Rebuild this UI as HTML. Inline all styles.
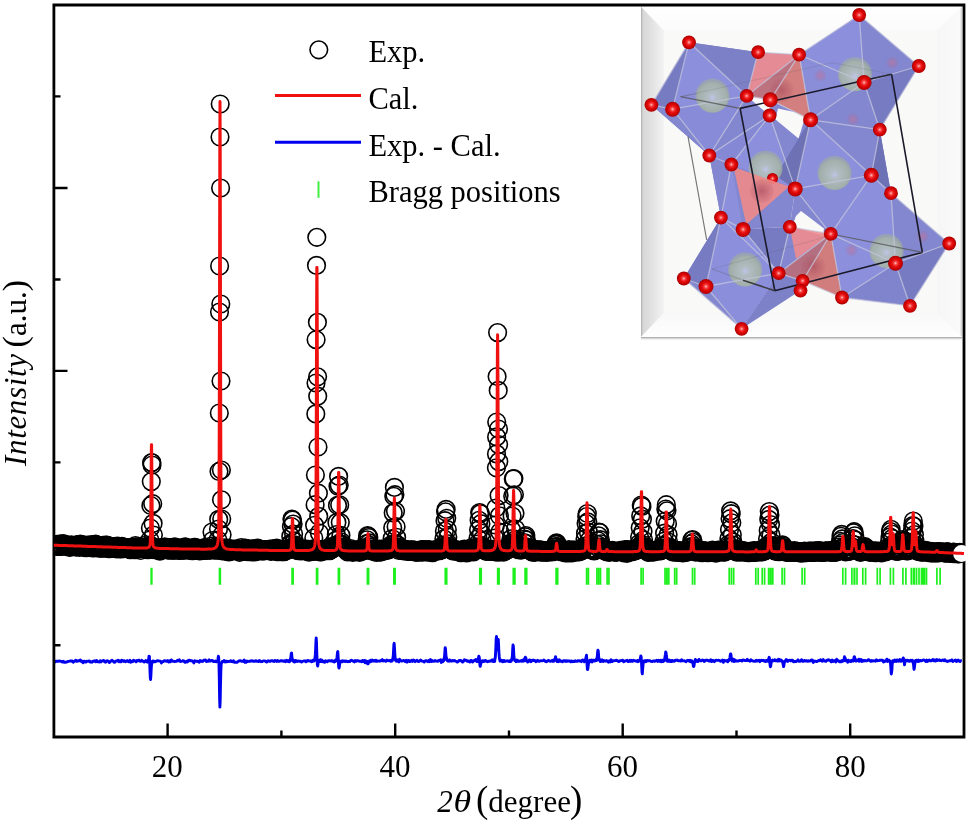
<!DOCTYPE html>
<html><head><meta charset="utf-8"><style>
html,body{margin:0;padding:0;background:#fff;}
body{width:968px;height:824px;overflow:hidden;}
svg{display:block;will-change:transform;}
text{font-family:"Liberation Serif",serif;fill:#000;}
</style></head><body>
<svg width="968" height="824" viewBox="0 0 968 824">
<defs>
<marker id="c" markerWidth="24" markerHeight="24" refX="12" refY="12" markerUnits="userSpaceOnUse" overflow="visible"><circle cx="12" cy="12" r="8.8" fill="none" stroke="#000" stroke-width="1.6"/></marker>
<clipPath id="pc"><rect x="55.2" y="0" width="910" height="737"/></clipPath>
</defs>
<rect width="968" height="824" fill="#fff"/>
<path d="M151.2 567.8V584.8M151.8 567.8V584.8M219.5 567.8V584.8M220.3 567.8V584.8M292.1 567.8V584.8M293.1 567.8V584.8M316.6 567.8V584.8M317.6 567.8V584.8M338.4 567.8V584.8M339.4 567.8V584.8M367.4 567.8V584.8M368.6 567.8V584.8M393.9 567.8V584.8M395.1 567.8V584.8M445.3 567.8V584.8M446.7 567.8V584.8M479.8 567.8V584.8M481.2 567.8V584.8M497.7 567.8V584.8M499.1 567.8V584.8M513.3 567.8V584.8M514.9 567.8V584.8M525.1 567.8V584.8M526.7 567.8V584.8M556.1 567.8V584.8M557.7 567.8V584.8M586.6 567.8V584.8M588.4 567.8V584.8M596.9 567.8V584.8M598.7 567.8V584.8M598.7 567.8V584.8M600.5 567.8V584.8M607.1 567.8V584.8M608.9 567.8V584.8M641.1 567.8V584.8M643.1 567.8V584.8M665 567.8V584.8M667 567.8V584.8M666.8 567.8V584.8M668.8 567.8V584.8M674.7 567.8V584.8M676.7 567.8V584.8M692.5 567.8V584.8M694.7 567.8V584.8M729.2 567.8V584.8M731.4 567.8V584.8M731.5 567.8V584.8M733.7 567.8V584.8M755.8 567.8V584.8M758.2 567.8V584.8M762.2 567.8V584.8M764.6 567.8V584.8M768.6 567.8V584.8M771 567.8V584.8M770.4 567.8V584.8M772.8 567.8V584.8M782.1 567.8V584.8M784.5 567.8V584.8M802.1 567.8V584.8M804.7 567.8V584.8M842.8 567.8V584.8M845.6 567.8V584.8M851.9 567.8V584.8M854.7 567.8V584.8M854.2 567.8V584.8M857 567.8V584.8M862.8 567.8V584.8M865.6 567.8V584.8M877.3 567.8V584.8M880.1 567.8V584.8M890.4 567.8V584.8M893.4 567.8V584.8M902.9 567.8V584.8M905.9 567.8V584.8M911.3 567.8V584.8M914.3 567.8V584.8M913.5 567.8V584.8M916.5 567.8V584.8M919 567.8V584.8M922 567.8V584.8M921.5 567.8V584.8M924.5 567.8V584.8M923.5 567.8V584.8M926.5 567.8V584.8M936.9 567.8V584.8M940.1 567.8V584.8" stroke="#1cf01c" stroke-width="1.7" fill="none"/>
<polyline points="54.3,660.6 55.2,661.9 56.1,661.2 57,661.1 57.9,661.4 58.8,661.1 59.7,661 60.6,661.4 61.5,661.4 62.4,662.1 63.3,661.3 64.2,662.3 65.1,662.3 66,662.2 66.9,661.9 67.8,661.4 68.7,661.4 69.6,661.2 70.5,660.9 71.4,661.2 72.3,660.9 73.2,662.2 74.1,661.6 75,661 75.9,660.2 76.8,661.3 77.7,661.1 78.6,660.7 79.5,660.7 80.4,660 81.3,661.6 82.2,661.2 83.1,662.7 84,661.3 84.9,661.2 85.8,662.1 86.7,661.3 87.6,661.4 88.5,661.1 89.4,660.9 90.3,662.1 91.2,661.8 92.1,662.2 93,661.1 93.9,661.3 94.8,660.8 95.7,661.8 96.6,660.5 97.5,661.6 98.4,661.9 99.3,662 100.2,660.7 101.1,661.9 102,660.9 102.9,660.8 103.8,660.5 104.7,661.9 105.6,662.2 106.5,660.9 107.4,660.8 108.3,661.1 109.2,662.6 110.1,661.8 111,661 111.9,660.3 112.8,660.9 113.7,661.9 114.6,662.3 115.5,661.1 116.4,660.9 117.3,661 118.2,660.2 119.1,661.7 120,660.7 120.9,661.8 121.8,660.3 122.7,660.5 123.6,661.4 124.5,660.8 125.4,661.7 126.3,661.2 127.2,660.6 128.1,661.6 129,661.7 129.9,660.2 130.8,662.2 131.7,661.5 132.6,661.7 133.5,660.2 134.4,660.8 135.3,661 136.2,661.8 137.1,660.4 138,660.7 138.9,660.1 139.8,661.1 140.7,661.4 141.6,660.3 142.5,660.9 143.4,661.5 144.3,662.1 145.2,661.6 145.5,661.1 145.8,660.6 146.1,660.8 146.4,660.9 146.7,661.4 147,661.2 147.3,662.2 147.6,661.4 147.9,660.5 148.2,661.6 148.5,660.2 148.8,658 149.1,656.1 149.4,656.5 149.7,662.2 150,671.3 150.3,677.9 150.6,679.5 150.9,675.5 151.2,669.2 151.5,665 151.8,663.1 152.1,662.8 152.4,661.2 152.7,662.1 153,661 153.3,661.8 153.6,661.5 153.9,661.4 154.2,661.8 154.5,661.2 154.8,661.8 155.1,661.7 156,661.3 156.9,660.9 157.8,660.8 158.7,660.9 159.6,661.1 160.5,661.2 161.4,662.9 162.3,661.6 163.2,661.6 164.1,660.7 165,660.8 165.9,661 166.8,661.3 167.7,660.6 168.6,662.1 169.5,660.9 170.4,661.8 171.3,659.9 172.2,661.2 173.1,661.4 174,661.3 174.9,661.5 175.8,661.4 176.7,661.3 177.6,660.2 178.5,660.8 179.4,659.9 180.3,661.5 181.2,661.4 182.1,661.1 183,660.7 183.9,660.9 184.8,662.2 185.7,662.2 186.6,661.2 187.5,661.9 188.4,660.3 189.3,660.1 190.2,660.9 191.1,660.7 192,660.9 192.9,661.3 193.8,662.9 194.7,660.8 195.6,661.2 196.5,661.3 197.4,661.2 198.3,661.7 199.2,662.2 200.1,660.5 201,661.3 201.9,661 202.8,661.4 203.7,660.3 204.6,660.2 205.5,659.9 206.4,661.5 207.3,661.3 208.2,661.2 209.1,659.9 210,661 210.9,660.8 211.8,660.4 212.7,660.7 213.6,661.6 214.5,661.5 214.8,661.2 215.1,661.5 215.4,661 215.7,661.4 216,661.4 216.3,661.7 216.6,661.4 216.9,661.3 217.2,661.3 217.5,660.7 217.8,661.3 218.1,658.3 218.4,656.2 218.7,658.1 219,665.5 219.3,678.9 219.6,697.8 219.9,707.1 220.2,700.2 220.5,684.8 220.8,672.5 221.1,665.2 221.4,662.9 221.7,662.7 222,662.4 222.3,661.4 222.6,661.5 222.9,661.4 223.2,661.6 223.5,661.4 223.8,661 224.1,660.5 224.4,661.9 225.3,662 226.2,661.1 227.1,661.7 228,661.4 228.9,661.5 229.8,661.4 230.7,660.7 231.6,661.5 232.5,661.7 233.4,660.7 234.3,662.2 235.2,662.3 236.1,662.2 237,662.3 237.9,661.6 238.8,661 239.7,660.8 240.6,660.7 241.5,661.2 242.4,661.1 243.3,661.5 244.2,660 245.1,662.4 246,662.4 246.9,661.1 247.8,661.5 248.7,661.4 249.6,661.3 250.5,661 251.4,661.1 252.3,660.7 253.2,661.2 254.1,661.1 255,661.3 255.9,660.7 256.8,661.2 257.7,661.2 258.6,661.5 259.5,660.6 260.4,661.4 261.3,661.7 262.2,661.5 263.1,660.9 264,660.9 264.9,661 265.8,661.5 266.7,662 267.6,661 268.5,660.8 269.4,661.3 270.3,661.2 271.2,660.6 272.1,660.7 273,661.1 273.9,661.5 274.8,660.5 275.7,660.6 276.6,661.4 277.5,660.5 278.4,661.2 279.3,661.3 280.2,661.1 281.1,660.6 282,661.1 282.9,660.9 283.8,661.3 284.7,660.7 285.6,661.7 286.5,660.2 287.4,661 287.7,661.1 288,661.6 288.3,660.7 288.6,661.3 288.9,660.7 289.2,661.4 289.5,661.8 289.8,660.6 290.1,660.7 290.4,659.1 290.7,658.4 291,655.9 291.3,653.2 291.6,653 291.9,656.4 292.2,659.2 292.5,660.6 292.8,661.1 293.1,659.8 293.4,660.5 293.7,661.7 294,660.3 294.3,661.6 294.6,662.1 294.9,661.5 295.2,661.7 295.5,660.9 295.8,660.4 296.1,661.1 296.4,661 296.7,661.1 297,661.5 297.9,661 298.8,661.2 299.7,661.3 300.6,661.1 301.5,662.1 302.4,661.4 303.3,661.2 304.2,661 305.1,660.8 306,661.8 306.9,661.2 307.8,660.5 308.7,660.8 309.6,661 310.5,660.9 311.4,661.7 312.3,660.5 312.6,661.4 312.9,661 313.2,660.2 313.5,660.8 313.8,660.7 314.1,660.9 314.4,660.2 314.7,660.2 315,657.8 315.3,654.9 315.6,649.8 315.9,642.2 316.2,637.9 316.5,642.6 316.8,653.2 317.1,659.9 317.4,665.1 317.7,666 318,664.2 318.3,661.6 318.6,660.4 318.9,661.9 319.2,661.1 319.5,660.5 319.8,661.1 320.1,661.5 320.4,659.6 320.7,661.6 321,661.5 321.3,659.9 321.6,661.5 321.9,660.1 322.8,661.7 323.7,661.3 324.6,662.3 325.5,660.8 326.4,661.1 327.3,661.7 328.2,660.7 329.1,660.7 330,660.9 330.9,661 331.8,660.5 332.7,661.4 333.6,661.4 333.9,661.1 334.2,662 334.5,660.9 334.8,661.7 335.1,660.7 335.4,661.4 335.7,659.9 336,660.9 336.3,660.5 336.6,659.6 336.9,657.9 337.2,655.3 337.5,652.3 337.8,651.6 338.1,656.4 338.4,662.1 338.7,666.9 339,668.1 339.3,666.8 339.6,664.6 339.9,662.3 340.2,661.3 340.5,662.1 340.8,661.7 341.1,661.7 341.4,661.8 341.7,660.9 342,661 342.3,661.7 342.6,660.8 342.9,661 343.2,661.3 343.5,661.3 344.4,660.9 345.3,661.6 346.2,661 347.1,661.5 348,661.7 348.9,661.4 349.8,661.5 350.7,660.4 351.6,660.3 352.5,660.7 353.4,661.3 354.3,661.9 355.2,660.4 356.1,661.2 357,660.6 357.9,660.7 358.8,660.9 359.7,661.4 360.6,661.2 361.5,661.7 362.4,660.5 362.7,661.6 363,661.6 363.3,661.1 363.6,661.3 363.9,660.8 364.2,660.5 364.5,660.9 364.8,660.7 365.1,662.7 365.4,660.8 365.7,662 366,661.3 366.3,661.4 366.6,661.8 366.9,661.3 367.2,663 367.5,663.7 367.8,663.2 368.1,663.8 368.4,662.8 368.7,662 369,662.2 369.3,661 369.6,661.4 369.9,661.5 370.2,660.6 370.5,661.8 370.8,660.3 371.1,660.4 371.4,661.3 371.7,660.5 372,661 372.3,660.1 373.2,661.1 374.1,660.4 375,661.2 375.9,660.2 376.8,661.3 377.7,660.9 378.6,661.1 379.5,661 380.4,661.1 381.3,660.3 382.2,659.6 383.1,661.1 384,660.5 384.9,660.8 385.8,661.3 386.7,660 387.6,660.6 388.5,660.7 389.4,660.5 390.3,661.2 390.6,661 390.9,660.4 391.2,660.3 391.5,661.2 391.8,660.3 392.1,660.9 392.4,660.6 392.7,658.8 393,657.9 393.3,655.3 393.6,649.9 393.9,644.4 394.2,643.3 394.5,648.2 394.8,653.4 395.1,657.6 395.4,660 395.7,660 396,661.1 396.3,659.8 396.6,661.1 396.9,660.7 397.2,659.8 397.5,661.4 397.8,661.1 398.1,660.9 398.4,660.3 398.7,660.8 399,661.9 399.3,660.6 399.6,659.1 399.9,660.6 400.8,660.4 401.7,661 402.6,660.8 403.5,660.5 404.4,660.6 405.3,661.6 406.2,660.2 407.1,662.1 408,660.7 408.9,660.4 409.8,661.5 410.7,661.3 411.6,660.4 412.5,661.4 413.4,660 414.3,660.5 415.2,661.6 416.1,660.9 417,660.3 417.9,661.3 418.8,661.5 419.7,661 420.6,660 421.5,660.8 422.4,661.2 423.3,661.4 424.2,662 425.1,660.9 426,660.7 426.9,661 427.8,661.7 428.7,660.5 429.6,661.7 430.5,659.5 431.4,661.4 432.3,660.6 433.2,661.3 434.1,661.4 435,660.4 435.9,661 436.8,661.1 437.7,661.3 438.6,660.5 439.5,660.5 440.4,659.9 441.3,662.4 441.6,660.9 441.9,660.8 442.2,660 442.5,661.3 442.8,660.5 443.1,661.5 443.4,661.1 443.7,660.5 444,660.4 444.3,658 444.6,655.6 444.9,651.3 445.2,647.6 445.5,649.1 445.8,653 446.1,657.7 446.4,657.4 446.7,659.8 447,660 447.3,660.4 447.6,661 447.9,661 448.2,660.9 448.5,660.6 448.8,661.2 449.1,661.1 449.4,659.9 449.7,660.8 450,660.2 450.3,660.3 450.6,661.1 450.9,661 451.8,661.1 452.7,660.5 453.6,660.9 454.5,660.5 455.4,661.2 456.3,661.4 457.2,662 458.1,661.7 459,660.5 459.9,660.7 460.8,660.5 461.7,661.2 462.6,662.1 463.5,661.4 464.4,659.8 465.3,660.3 466.2,660.3 467.1,661.3 468,661 468.9,661.1 469.8,662 470.7,660.5 471.6,660.5 472.5,662.1 473.4,661.2 474.3,660.5 475.2,659.9 475.5,660.1 475.8,659.6 476.1,661 476.4,661 476.7,661.5 477,660.8 477.3,660.5 477.6,660.3 477.9,661.4 478.2,658.4 478.5,657.9 478.8,656.2 479.1,656.7 479.4,658.6 479.7,662.7 480,665.9 480.3,666.3 480.6,664.8 480.9,663.1 481.2,661.4 481.5,661.2 481.8,661 482.1,661.2 482.4,661.8 482.7,661.7 483,660.8 483.3,661.3 483.6,661.1 483.9,661.4 484.2,661 484.5,661.1 484.8,660.7 485.7,660.5 486.6,661.4 487.5,661.7 488.4,661.3 489.3,661.2 490.2,661.1 491.1,660.7 492,660 492.3,661.3 492.6,661.1 492.9,660.7 493.2,660.2 493.5,661.4 493.8,659.6 494.1,661.5 494.4,660.7 494.7,661.4 495,658.9 495.3,657.4 495.6,652.9 495.9,646.2 496.2,638.5 496.5,636.5 496.8,643.1 497.1,648.2 497.4,649.8 497.7,646.6 498,640.4 498.3,639.5 498.6,645.5 498.9,652 499.2,656.2 499.5,659 499.8,659.7 500.1,661.1 500.4,659.8 500.7,661 501,660.2 501.3,660.5 501.6,660.6 501.9,660.9 502.2,661.3 502.5,661.8 502.8,660.6 503.1,661.7 503.4,661.5 503.7,661.4 504,660.5 504.9,661.4 505.8,660.9 506.7,661.1 507.6,660.8 508.5,661.3 509.4,661.6 509.7,661.4 510,660.7 510.3,661.3 510.6,661.5 510.9,660.1 511.2,661.3 511.5,659.5 511.8,660 512.1,658.3 512.4,655.3 512.7,649.4 513,644.9 513.3,645.7 513.6,650.4 513.9,656.3 514.2,658.6 514.5,659.5 514.8,660.7 515.1,660.1 515.4,660.4 515.7,660.4 516,661.7 516.3,661.6 516.6,660.7 516.9,660 517.2,661 517.5,660.9 517.8,661.1 518.1,661.3 518.4,660.8 518.7,661.4 519,661.4 519.9,661.1 520.8,660.7 521.7,660.7 522,661.3 522.3,660.3 522.6,660.8 522.9,660.5 523.2,660.1 523.5,661.2 523.8,660.8 524.1,660.6 524.4,660.7 524.7,658.5 525,658.1 525.3,657.2 525.6,657.8 525.9,657.9 526.2,660.1 526.5,660.5 526.8,661.4 527.1,661.4 527.4,661.1 527.7,662 528,660.9 528.3,660.7 528.6,660.7 528.9,660.4 529.2,660.9 529.5,659.9 529.8,660.9 530.1,661.2 530.4,661.5 530.7,660.7 531,661.7 531.3,660.6 532.2,660.9 533.1,659.9 534,660.5 534.9,660.5 535.8,661.7 536.7,661.2 537.6,660.3 538.5,661.2 539.4,661.2 540.3,660.8 541.2,660.9 542.1,660.8 543,660.6 543.9,660 544.8,660.9 545.7,661.6 546.6,661.7 547.5,660.8 548.4,660.5 549.3,660.8 550.2,661.4 551.1,661.1 552,660.6 552.3,661.1 552.6,660.8 552.9,661.1 553.2,660.6 553.5,660 553.8,660.8 554.1,661.2 554.4,660 554.7,660.1 555,659.8 555.3,657.9 555.6,656.7 555.9,658.4 556.2,659 556.5,660.2 556.8,659.9 557.1,661.5 557.4,659.9 557.7,660.5 558,661.2 558.3,661.6 558.6,660.4 558.9,660.5 559.2,661 559.5,659.8 559.8,661.2 560.1,661.2 560.4,660.7 560.7,661.2 561,661.3 561.3,661.1 561.6,661.2 562.5,661.7 563.4,660.7 564.3,661 565.2,660.6 566.1,661.5 567,660.7 567.9,661.2 568.8,661 569.7,660.9 570.6,661.8 571.5,660.9 572.4,661.7 573.3,661.3 574.2,661.6 575.1,660.8 576,661.4 576.9,661.3 577.8,660.6 578.7,661 579.6,660.8 580.5,660.9 581.4,661.6 582.3,660.5 582.6,660 582.9,660 583.2,660.6 583.5,660.5 583.8,660.9 584.1,661.2 584.4,661.8 584.7,661 585,660.9 585.3,659.8 585.6,659.5 585.9,658.2 586.2,656.6 586.5,655.2 586.8,660 587.1,665.4 587.4,669.5 587.7,669.5 588,667.8 588.3,665.1 588.6,662.8 588.9,661.2 589.2,660.8 589.5,661.6 589.8,660.3 590.1,661.8 590.4,661 590.7,661.1 591,660.2 591.3,660.6 591.6,661.2 591.9,660.1 592.2,662 593.1,660.1 594,660.2 594.3,660.9 594.6,661.1 594.9,661.1 595.2,660.5 595.5,660.6 595.8,660.5 596.1,660.3 596.4,659.1 596.7,660.5 597,659 597.3,656.5 597.6,652.5 597.9,650.2 598.2,650.7 598.5,654.1 598.8,658 599.1,658.5 599.4,660.3 599.7,659.9 600,660.4 600.3,661.5 600.6,660.1 600.9,660.7 601.2,660.5 601.5,661.3 601.8,660.3 602.1,659.9 602.4,661.1 602.7,660.7 603,660.7 603.3,661.4 603.6,660.4 603.9,660.7 604.8,661 605.7,661.1 606.6,660.6 607.5,661.4 608.4,662.1 609.3,660.7 610.2,661.9 611.1,659.8 612,661.6 612.9,660.7 613.8,660.9 614.7,660.7 615.6,660.5 616.5,660.2 617.4,660.7 618.3,661.5 619.2,661.5 620.1,660.7 621,660.6 621.9,660.5 622.8,660.2 623.7,661.8 624.6,661.2 625.5,660.9 626.4,660.6 627.3,660.3 628.2,661.6 629.1,661.3 630,660.4 630.9,661.4 631.8,660.3 632.7,661.2 633.6,660.3 634.5,660.6 635.4,661.1 636.3,661.1 637.2,661.4 637.5,660.4 637.8,661.7 638.1,661.6 638.4,660.8 638.7,661.1 639,660.4 639.3,660.7 639.6,659.9 639.9,660.2 640.2,659.2 640.5,657.9 640.8,655.9 641.1,656.4 641.4,660 641.7,666.3 642,672 642.3,673.8 642.6,669.4 642.9,666.5 643.2,662.4 643.5,661.5 643.8,661.3 644.1,660.9 644.4,661.9 644.7,661 645,661.8 645.3,661.6 645.6,660.7 645.9,661.1 646.2,661.5 646.5,660.7 646.8,660.9 647.7,660.5 648.6,660.9 649.5,660.7 650.4,660.9 651.3,661.4 652.2,661.6 653.1,660.9 654,660.9 654.9,661.3 655.8,660.7 656.7,660.3 657.6,661.4 658.5,660.3 659.4,661.3 660.3,660.3 661.2,661.8 662.1,660.3 662.4,661.3 662.7,661.5 663,660.2 663.3,661.5 663.6,660.2 663.9,659.7 664.2,660.8 664.5,660.5 664.8,659.1 665.1,656 665.4,654.4 665.7,652 666,652.5 666.3,655.3 666.6,657.1 666.9,659.3 667.2,661.2 667.5,661.3 667.8,660.4 668.1,660.3 668.4,660.9 668.7,661.3 669,661.1 669.3,660.1 669.6,660.8 669.9,660.8 670.2,661.5 670.5,661.5 670.8,661.1 671.1,661.5 671.4,660.6 671.7,661.6 672.6,660.6 673.5,661 674.4,661.3 675.3,660.3 676.2,660.4 677.1,659.9 678,660.9 678.9,660.8 679.8,660.6 680.7,661.1 681.6,659.7 682.5,660.8 683.4,660.9 684.3,660.7 685.2,661.2 686.1,661.7 687,660.6 687.9,660.3 688.8,660.5 689.1,660.9 689.4,661.2 689.7,660.4 690,661.4 690.3,660.3 690.6,661.3 690.9,661.1 691.2,661.2 691.5,662.1 691.8,660.9 692.1,661 692.4,661.7 692.7,662.7 693,663.2 693.3,666.1 693.6,666.6 693.9,666.3 694.2,664.6 694.5,662.3 694.8,661.4 695.1,661.2 695.4,659.4 695.7,661.4 696,661.2 696.3,661 696.6,660.7 696.9,660.5 697.2,660.7 697.5,661.4 697.8,660.7 698.1,661.5 699,659.4 699.9,660.6 700.8,660.9 701.7,660.8 702.6,659.9 703.5,660.4 704.4,661.5 705.3,660.1 706.2,660.3 707.1,660.2 708,660.5 708.9,661.1 709.8,661.1 710.7,659.7 711.6,661.6 712.5,660.5 713.4,660.5 714.3,661.7 715.2,660.7 716.1,660.1 717,660.4 717.9,660.4 718.8,660.3 719.7,660.6 720.6,661.2 721.5,661 722.4,660.1 723.3,662.3 724.2,660.3 725.1,660.8 726,660.8 726.9,661.2 727.2,660.6 727.5,660.9 727.8,661.8 728.1,660.7 728.4,660.1 728.7,660.7 729,660 729.3,660 729.6,659.5 729.9,658 730.2,655.3 730.5,654 730.8,653.9 731.1,655.6 731.4,658.9 731.7,659.6 732,661 732.3,660.2 732.6,660.9 732.9,660.8 733.2,659.2 733.5,659.9 733.8,660.1 734.1,661.5 734.4,659.7 734.7,661.2 735,661.3 735.3,661 735.6,661.1 735.9,660.5 736.2,660.8 736.5,660.9 737.4,661 738.3,661.1 739.2,660.7 740.1,660.4 741,660.5 741.9,661 742.8,659.9 743.7,660.1 744.6,660.5 745.5,660.5 746.4,660.6 747.3,659.4 748.2,660.6 749.1,660.6 750,661.2 750.9,659.7 751.8,660.6 752.7,661 753.6,661 754.5,661.4 755.4,661.3 756.3,660.2 757.2,661.1 758.1,660.6 759,660.3 759.9,661.6 760.8,660.4 761.7,660.3 762.6,660.5 763.5,660.3 764.4,661.3 765.3,661 765.6,661.5 765.9,661 766.2,660.4 766.5,661.3 766.8,660.4 767.1,660.5 767.4,660.6 767.7,660.7 768,661.1 768.3,659.7 768.6,659.4 768.9,658.2 769.2,657.3 769.5,658.8 769.8,662 770.1,665.3 770.4,666.8 770.7,666 771,663.8 771.3,661.9 771.6,661.6 771.9,660.5 772.2,660.2 772.5,660.7 772.8,660.1 773.1,660.5 773.4,660.4 773.7,660.5 774,660.7 774.3,660.3 774.6,660.5 774.9,659.8 775.8,660.8 776.7,660.3 777.6,661 778.5,659.2 778.8,660.3 779.1,660.9 779.4,659.5 779.7,660.6 780,660.8 780.3,660.8 780.6,660 780.9,660.9 781.2,660.9 781.5,660.3 781.8,661.3 782.1,661 782.4,661.3 782.7,661.8 783,663.7 783.3,665.1 783.6,666.6 783.9,665.3 784.2,663 784.5,661.9 784.8,661.8 785.1,660.8 785.4,661.1 785.7,661.1 786,660.7 786.3,659.6 786.6,660.9 786.9,660.9 787.2,660.8 787.5,660.3 787.8,661.4 788.1,660.7 789,660.4 789.9,660.3 790.8,660.9 791.7,660.1 792.6,660.2 793.5,661.8 794.4,661.4 795.3,661.3 796.2,661.5 797.1,661 798,659.8 798.9,661.4 799.8,661.4 800.7,661 801.6,659.7 802.5,661.4 803.4,661.4 804.3,660.5 805.2,660.8 806.1,661.1 807,660.7 807.9,661.3 808.8,660.8 809.7,661.1 810.6,660.8 811.5,659.9 812.4,660.2 813.3,662.4 814.2,660.9 815.1,661.4 816,661.3 816.9,661.6 817.8,661 818.7,660.4 819.6,660.7 820.5,659.7 821.4,660.6 822.3,661.2 823.2,659.6 824.1,660.8 825,661.1 825.9,661.4 826.8,660.2 827.7,660.4 828.6,659.7 829.5,660.2 830.4,661 831.3,661.8 832.2,660.1 833.1,661.4 834,660.9 834.9,660.4 835.8,661.9 836.7,659.3 837.6,660.7 838.5,660.8 839.4,661.8 840.3,661.7 841.2,661.9 841.5,660.7 841.8,661.2 842.1,661.4 842.4,660.9 842.7,660.8 843,660.5 843.3,660.3 843.6,659.7 843.9,660.9 844.2,658.8 844.5,656.8 844.8,657.4 845.1,657.9 845.4,659.1 845.7,660.8 846,660.3 846.3,660.4 846.6,660.2 846.9,660.6 847.2,660.4 847.5,660.7 847.8,662.3 848.1,660.9 848.4,660.2 848.7,661.7 849,661.1 849.3,661.1 849.6,661.1 849.9,661.1 850.2,661 850.5,661.4 850.8,661.2 851.1,661.4 851.4,660.4 851.7,660.6 852,660.2 852.3,661.1 852.6,661 852.9,660.2 853.2,660.6 853.5,661.1 853.8,659.4 854.1,656.8 854.4,656.7 854.7,657.7 855,658.7 855.3,659.9 855.6,660.9 855.9,660.7 856.2,660 856.5,661 856.8,660.6 857.1,660.7 857.4,660.3 857.7,659.9 858,660 858.3,660.5 858.6,660.1 858.9,659.2 859.2,661.3 859.5,660.1 859.8,660.3 860.1,661 861,659.4 861.9,661.4 862.8,660.3 863.7,661 864.6,660.4 865.5,660.8 866.4,660.7 867.3,660.7 868.2,659.7 869.1,659.9 870,660.6 870.9,661.4 871.8,660.4 872.7,661 873.6,660.8 874.5,660.9 875.4,661.2 876.3,659.9 877.2,660.8 878.1,660.6 879,660.5 879.9,660.2 880.8,660.2 881.7,660.1 882.6,660.1 883.5,662 884.4,661.6 885.3,660.7 886.2,661.1 886.5,660.1 886.8,659.2 887.1,659.8 887.4,660.8 887.7,661.5 888,660.7 888.3,660.3 888.6,660.7 888.9,660.3 889.2,660.2 889.5,660.9 889.8,661 890.1,661.2 890.4,662.5 890.7,665.3 891,670.1 891.3,674 891.6,672.3 891.9,669.7 892.2,663.8 892.5,662.6 892.8,660.8 893.1,661 893.4,661 893.7,661.2 894,661.5 894.3,660.5 894.6,660.1 894.9,660.5 895.2,660.8 895.5,660.3 895.8,661.1 896.1,661.6 897,659.9 897.9,660.8 898.8,661.2 899.7,659.6 900,660.7 900.3,660.5 900.6,659.9 900.9,661.3 901.2,660.7 901.5,660.3 901.8,660.8 902.1,660.7 902.4,660.3 902.7,659.5 903,658.6 903.3,657.9 903.6,659.6 903.9,661.7 904.2,661.8 904.5,664.9 904.8,662.8 905.1,661.3 905.4,660.2 905.7,661 906,660.8 906.3,660.4 906.6,660.5 906.9,660.2 907.2,660.3 907.5,660.6 907.8,660.3 908.1,661 908.4,660.6 908.7,660.7 909,660.9 909.3,661.3 909.6,661 909.9,660.8 910.2,660.6 910.5,660.3 910.8,660.5 911.1,661.1 911.4,660.9 911.7,660.6 912,660.1 912.3,660.1 912.6,661.2 912.9,662.1 913.2,662.9 913.5,664.2 913.8,667.7 914.1,669.4 914.4,667.3 914.7,665.2 915,662.6 915.3,661.1 915.6,660.4 915.9,661.3 916.2,661 916.5,660.3 916.8,660.2 917.1,661.2 917.4,661 917.7,660.5 918,661.5 918.3,660.5 918.6,660.1 919.5,661.2 920.4,660.5 921.3,660.8 922.2,660.6 923.1,660.1 924,660 924.9,660.5 925.8,661.4 926.7,660.1 927.6,661.4 928.5,660.7 929.4,660 930.3,660.8 931.2,660.9 932.1,660.1 933,659.5 933.9,660.8 934.8,660 935.7,660.9 936.6,659.6 937.5,660.5 938.4,660.2 939.3,659.8 940.2,660.5 941.1,660.7 942,660.3 942.9,660 943.8,660.7 944.7,659.7 945.6,660.9 946.5,660.9 947.4,661.5 948.3,661.1 949.2,660.8 950.1,660.7 951,660.6 951.9,659.9 952.8,661.4 953.7,660.9 954.6,660.5 955.5,660 956.4,661.4 957.3,660.9 958.2,660 959.1,661 960,661.6 960.9,660.6 961.8,660.8" fill="none" stroke="#0000ee" stroke-width="2.9" stroke-linejoin="round"/>
<g clip-path="url(#pc)"><polyline points="54.1,544.9 54.7,545.7 55.2,545 55.8,544.9 56.4,544.4 56.9,545.1 57.5,546.4 58.1,545.8 58.7,546.4 59.2,545.6 59.8,545.8 60.4,545.6 60.9,543.8 61.5,546.3 62.1,546 62.6,546 63.2,543.8 63.8,543.8 64.3,544.7 64.9,545.1 65.5,545.9 66,545.6 66.6,546.1 67.2,545 67.8,546 68.3,546.1 68.9,545.1 69.5,547.4 70,546.3 70.6,547 71.2,545.2 71.7,545.1 72.3,545.5 72.9,545.7 73.4,546.5 74,546.1 74.6,545.5 75.2,545 75.7,545.4 76.3,547.2 76.9,545.2 77.4,546.2 78,546.4 78.6,544.6 79.1,546.1 79.7,547.4 80.3,544.1 80.8,545.8 81.4,546 82,545.3 82.6,546.7 83.1,546.1 83.7,544.8 84.3,547 84.8,546.9 85.4,547.2 86,547.7 86.5,546.7 87.1,546.4 87.7,545.1 88.2,547 88.8,545.8 89.4,546 89.9,545.2 90.5,545.5 91.1,545.9 91.7,547.7 92.2,544.5 92.8,545.1 93.4,546.8 93.9,548 94.5,547.1 95.1,544.7 95.6,544.2 96.2,547 96.8,545.9 97.3,545.6 97.9,547.7 98.5,547.8 99.1,546.9 99.6,547 100.2,547.2 100.8,548.3 101.3,547.4 101.9,547.3 102.5,547.4 103,545.3 103.6,548.1 104.2,547.8 104.7,547.4 105.3,545 105.9,546.4 106.4,547.8 107,545.2 107.6,546.8 108.2,548 108.7,545.8 109.3,548.6 109.9,547.6 110.4,547 111,547.5 111.6,547.8 112.1,547.3 112.7,548.3 113.3,546.6 113.8,546.8 114.4,548.3 115,547.3 115.6,546.4 116.1,548.2 116.7,548.8 117.3,546.9 117.8,546 118.4,547.3 119,547.3 119.5,547.1 120.1,548.8 120.7,546.5 121.2,548.7 121.8,546.3 122.4,546.8 122.9,548.2 123.5,548.7 124.1,548.4 124.7,547.9 125.2,547.8 125.8,547.8 126.4,548.2 126.9,547.5 127.5,548 128.1,548.3 128.6,547.7 129.2,548.5 129.8,548.3 130.3,549.7 130.9,548.1 131.5,547.4 132.1,547.5 132.6,547.9 133.2,548.8 133.8,547.6 134.3,548.3 134.9,549.7 135.5,545.5 136,546.9 136.6,548.2 137.2,548.4 137.7,548.3 138.3,547.7 138.9,548.7 139.5,548.4 140,547.6 140.6,550.5 141.2,548.5 141.7,547.7 142.3,548.1 142.9,548 143.4,548.2 144,545.6 144.6,547.8 145.1,549.2 145.7,547.2 146.3,548.2 146.8,549.2 147.4,549.1 148,549.7 148.6,546.7 149.1,548 149.7,548 150.3,548.9 150.8,549.4 151.4,545.8 152,549.4 152.5,547 153.1,549 153.7,547 154.2,548.6 154.8,549.6 155.4,548.3 156,548.6 156.5,549.2 157.1,548.6 157.7,548.4 158.2,549.9 158.8,549.5 159.4,548.2 159.9,551.1 160.5,547.5 161.1,549.4 161.6,548.3 162.2,548.7 162.8,549.2 163.3,548.8 163.9,549.2 164.5,547.2 165.1,547.2 165.6,549.2 166.2,547.7 166.8,547.7 167.3,547.3 167.9,549.9 168.5,549.4 169,550.1 169.6,547.8 170.2,548.7 170.7,547.6 171.3,549.4 171.9,550.2 172.5,547.9 173,550.2 173.6,549.7 174.2,548.6 174.7,546.9 175.3,550.1 175.9,548.7 176.4,548.3 177,549.2 177.6,549.2 178.1,550.2 178.7,547.9 179.3,549.9 179.8,550.3 180.4,550.2 181,548.7 181.6,548.2 182.1,549.9 182.7,549 183.3,549.1 183.8,550.3 184.4,548.7 185,546.8 185.5,548.6 186.1,547.3 186.7,549.8 187.2,549.3 187.8,548.5 188.4,549 189,549.8 189.5,549.1 190.1,550.3 190.7,549 191.2,550 191.8,550.5 192.4,550.6 192.9,548.5 193.5,549.9 194.1,547.4 194.6,548.1 195.2,547.3 195.8,550.1 196.3,548 196.9,549.2 197.5,549 198.1,549.2 198.6,548.7 199.2,549.4 199.8,550.9 200.3,549.3 200.9,549.7 201.5,550.2 202,549.1 202.6,548.1 203.2,548.8 203.7,550.3 204.3,547.8 204.9,548.8 205.5,550.3 206,550.1 206.6,549.4 207.2,550.1 207.7,549.5 208.3,548.3 208.9,548 209.4,548.8 210,550.3 210.6,548.9 211.1,548.6 211.7,548.7 212.3,548.1 212.9,549.4 213.4,548.4 214,549.8 214.6,547.3 215.1,549.8 215.7,548.9 216.3,547.7 216.8,550.2 217.4,549.3 218,547.5 218.5,548.8 219.1,549.8 219.7,549.2 220.2,550.3 220.8,550.3 221.4,550.2 222,549.9 222.5,550.8 223.1,550.2 223.7,550 224.2,547.8 224.8,550.5 225.4,550.8 225.9,549.4 226.5,549.3 227.1,551.4 227.6,548.1 228.2,550.1 228.8,551.9 229.4,548.9 229.9,550.4 230.5,551.4 231.1,549.6 231.6,550.3 232.2,550.6 232.8,549 233.3,549.7 233.9,550.1 234.5,550.6 235,549.8 235.6,549.7 236.2,548.9 236.7,549.5 237.3,550.7 237.9,550 238.5,549.1 239,549.1 239.6,552.3 240.2,550.9 240.7,550.5 241.3,547.6 241.9,550.5 242.4,550.4 243,551.5 243.6,550.3 244.1,549.9 244.7,550.4 245.3,548.2 245.9,550.9 246.4,550.3 247,549.4 247.6,551.2 248.1,551.6 248.7,548.8 249.3,549.5 249.8,550.3 250.4,550.2 251,549.7 251.5,549.2 252.1,552 252.7,551 253.2,549 253.8,548.9 254.4,551.6 255,551 255.5,551.7 256.1,550.9 256.7,549.4 257.2,550.4 257.8,548.2 258.4,549.5 258.9,550.1 259.5,550.6 260.1,549.5 260.6,550.1 261.2,550.6 261.8,550.5 262.4,550.8 262.9,550.4 263.5,549.9 264.1,550.9 264.6,550.3 265.2,549.5 265.8,549.7 266.3,550.3 266.9,550.2 267.5,550.4 268,550.3 268.6,550.5 269.2,550.2 269.8,549.2 270.3,550.7 270.9,551.3 271.5,550.7 272,550.2 272.6,550.7 273.2,549.5 273.7,548.7 274.3,550.4 274.9,549.5 275.4,551 276,549.4 276.6,548 277.1,549.4 277.7,551.7 278.3,550 278.9,549.1 279.4,549.7 280,550.8 280.6,550.7 281.1,550.5 281.7,551.6 282.3,550.9 282.8,550.2 283.4,550.7 284,551.6 284.5,550.9 285.1,550.9 285.7,549 286.3,549.7 286.8,550.3 287.4,549.1 288,550 288.5,549.1 289.1,548.3 289.7,545.4 290.2,543.9 290.8,536.4 291.4,526.5 291.9,519 292.5,520.1 293.1,524.1 293.6,534 294.2,541.2 294.8,544.8 295.4,546.2 295.9,548.6 296.5,549.3 297.1,550.4 297.6,550.3 298.2,549.9 298.8,550.7 299.3,550.5 299.9,550.3 300.5,550.3 301,550.1 301.6,550.9 302.2,549.5 302.8,549.9 303.3,550.4 303.9,549.2 304.5,550.1 305,548.8 305.6,549.9 306.2,551 306.7,551 307.3,550.5 307.9,550.4 308.4,549.4 309,552.2 309.6,551 310.1,551.5 310.7,549.9 311.3,550.5 311.9,549.1 312.4,551.3 313,551.4 313.6,549 314.1,550.6 314.7,551.2 315.3,549.1 315.8,549.1 316.4,549.7 317,550.1 317.5,549.4 318.1,550.6 318.7,550.8 319.3,551.1 319.8,551.2 320.4,551.9 321,551.6 321.5,549.5 322.1,550.1 322.7,549.6 323.2,549.6 323.8,550.4 324.4,550.5 324.9,550.9 325.5,549.1 326.1,549.3 326.7,550.3 327.2,550.1 327.8,550 328.4,550.1 328.9,549.5 329.5,550.6 330.1,550.2 330.6,549.7 331.2,549 331.8,549.2 332.3,546.8 332.9,547.9 333.5,548.3 334,546.4 334.6,546.8 335.2,545.1 335.8,540.4 336.3,534.5 336.9,522.4 337.5,505.3 338,486.2 338.6,476.4 339.2,485 339.7,504.8 340.3,522.6 340.9,535.4 341.4,541.8 342,544.4 342.6,545.6 343.2,547.4 343.7,547.7 344.3,547.9 344.9,549.1 345.4,549 346,549.7 346.6,550.3 347.1,549.6 347.7,552 348.3,549.9 348.8,551.2 349.4,550.4 350,551.3 350.5,548.5 351.1,549.9 351.7,550.7 352.3,551.1 352.8,552.5 353.4,550.9 354,551.7 354.5,551.2 355.1,551.4 355.7,551 356.2,550.5 356.8,551 357.4,549.7 357.9,551.6 358.5,549.8 359.1,550.8 359.7,552.3 360.2,550.4 360.8,550.5 361.4,551.4 361.9,550.4 362.5,549.7 363.1,550.5 363.6,550.6 364.2,550.4 364.8,548.7 365.3,549.9 365.9,548.1 366.5,543.7 367.1,539.8 367.6,535.5 368.2,536.3 368.8,537.6 369.3,542.9 369.9,545.4 370.5,547.4 371,549.7 371.6,550.8 372.2,550 372.7,549.6 373.3,551 373.9,550.4 374.4,550.7 375,551.8 375.6,551.5 376.2,550.1 376.7,552.5 377.3,550.6 377.9,551.3 378.4,550.1 379,550.6 379.6,549.2 380.1,552.1 380.7,551.7 381.3,549.6 381.8,549.3 382.4,549.2 383,551.5 383.6,550.1 384.1,550.4 384.7,550.1 385.3,550.2 385.8,549.3 386.4,550.1 387,548.8 387.5,549.7 388.1,549.8 388.7,549.6 389.2,548.7 389.8,547.6 390.4,547.6 390.9,545.7 391.5,544.6 392.1,538.5 392.7,527.9 393.2,512.9 393.8,496.3 394.4,487.4 394.9,494.7 395.5,511.3 396.1,526.7 396.6,537.3 397.2,544.5 397.8,545.3 398.3,547.4 398.9,550.5 399.5,547.3 400.1,548.8 400.6,549.7 401.2,549.9 401.8,550.3 402.3,549.9 402.9,550.5 403.5,550.4 404,551 404.6,549 405.2,549.8 405.7,550.6 406.3,549.8 406.9,549.8 407.4,551.2 408,550.2 408.6,551.3 409.2,551.4 409.7,551 410.3,551.2 410.9,550.7 411.4,549.7 412,550.8 412.6,551.2 413.1,550.4 413.7,550.8 414.3,551.5 414.8,550.2 415.4,551.4 416,552.4 416.6,550.5 417.1,551 417.7,550.8 418.3,552.2 418.8,551.2 419.4,551.7 420,550.4 420.5,550.9 421.1,550.9 421.7,549.5 422.2,552.1 422.8,551.7 423.4,549.5 424,551.5 424.5,550.8 425.1,551.3 425.7,551.2 426.2,549.7 426.8,550.8 427.4,552.1 427.9,550.5 428.5,550.1 429.1,549.8 429.6,549.9 430.2,551.2 430.8,552.2 431.3,551.2 431.9,551 432.5,552.6 433.1,550.4 433.6,550.3 434.2,551.2 434.8,551.2 435.3,549.9 435.9,549.8 436.5,550.9 437,550.8 437.6,549.5 438.2,550.3 438.7,549.9 439.3,550.6 439.9,549.9 440.5,549.7 441,549.2 441.6,549.9 442.2,549.4 442.7,546.7 443.3,545.1 443.9,538.8 444.4,531.1 445,520.7 445.6,511.8 446.1,509.4 446.7,518.3 447.3,529.7 447.8,537.1 448.4,543.8 449,546.2 449.6,548.5 450.1,548.1 450.7,547.9 451.3,549.8 451.8,550.2 452.4,549.7 453,551 453.5,550.2 454.1,550 454.7,550.9 455.2,549.4 455.8,550.1 456.4,550.7 457,551.4 457.5,550.6 458.1,551 458.7,550.3 459.2,551.1 459.8,552.1 460.4,550.3 460.9,552.7 461.5,550.4 462.1,550.9 462.6,551 463.2,551.7 463.8,549.9 464.3,549.2 464.9,551.3 465.5,551.5 466.1,551.3 466.6,552.9 467.2,551 467.8,551 468.3,551.5 468.9,551 469.5,552 470,549.7 470.6,550.4 471.2,547.9 471.7,551.2 472.3,550.2 472.9,551.1 473.5,551.9 474,550 474.6,549.6 475.2,549.1 475.7,548.4 476.3,547.8 476.9,547.3 477.4,544 478,538.6 478.6,529.9 479.1,520.3 479.7,512.5 480.3,513.7 480.9,523.7 481.4,533.1 482,539.8 482.6,546.3 483.1,547.8 483.7,547.8 484.3,550 484.8,549.8 485.4,548.7 486,551.3 486.5,550.5 487.1,551 487.7,550.6 488.2,550.4 488.8,549.4 489.4,551.4 490,550.7 490.5,550.5 491.1,551 491.7,550.8 492.2,551.3 492.8,550.5 493.4,550.8 493.9,549.2 494.5,550.5 495.1,551.3 495.6,551.8 496.2,550.5 496.8,550.7 497.4,552 497.9,550.5 498.5,551.3 499.1,552 499.6,550.7 500.2,551.6 500.8,550.1 501.3,550.8 501.9,550.5 502.5,550.6 503,551.3 503.6,552.2 504.2,549.8 504.7,549.8 505.3,550.5 505.9,549.1 506.5,550.1 507,549.9 507.6,549 508.2,549.2 508.7,547.1 509.3,548.1 509.9,545.1 510.4,543.4 511,538.8 511.6,529.9 512.1,516 512.7,496 513.3,478.9 513.9,478.5 514.4,494.8 515,513.3 515.6,529 516.1,539.3 516.7,543.6 517.3,545 517.8,549.1 518.4,549.7 519,547.1 519.5,548.9 520.1,549.5 520.7,550 521.2,549.8 521.8,549.1 522.4,548.1 523,548.1 523.5,547.1 524.1,542.7 524.7,539 525.2,536.8 525.8,535.5 526.4,540 526.9,543.6 527.5,547.2 528.1,548.1 528.6,548.9 529.2,549.8 529.8,550.3 530.4,550 530.9,550.6 531.5,551.3 532.1,551.7 532.6,552.1 533.2,550.3 533.8,550.6 534.3,549.2 534.9,552.4 535.5,550.5 536,551 536.6,551.5 537.2,550.1 537.8,551.5 538.3,551.1 538.9,549.8 539.5,551.4 540,552 540.6,549.8 541.2,551.8 541.7,551.4 542.3,551.6 542.9,551.5 543.4,552.2 544,551.1 544.6,551.9 545.1,550.9 545.7,551.8 546.3,550.6 546.9,551.1 547.4,552.5 548,551.5 548.6,551.1 549.1,550.3 549.7,550.6 550.3,551.3 550.8,551.8 551.4,551.4 552,551.4 552.5,550.9 553.1,551.7 553.7,550.1 554.3,549.4 554.8,549.2 555.4,546.7 556,544.4 556.5,542.9 557.1,543.9 557.7,546.6 558.2,548.4 558.8,548.6 559.4,550.6 559.9,550.8 560.5,550.2 561.1,551.6 561.6,550.9 562.2,550.9 562.8,551.8 563.4,552.2 563.9,550.7 564.5,551.6 565.1,550.6 565.6,553 566.2,550.9 566.8,552.2 567.3,550.8 567.9,551.9 568.5,552.9 569,549.5 569.6,551 570.2,551.7 570.8,551.2 571.3,550.8 571.9,552.8 572.5,551.3 573,550.1 573.6,551.9 574.2,550 574.7,552 575.3,550.8 575.9,551.3 576.4,552 577,551.2 577.6,550.1 578.1,549.8 578.7,551.8 579.3,551.4 579.9,550.2 580.4,551.3 581,550.8 581.6,550.7 582.1,548.4 582.7,549.4 583.3,549.6 583.8,548.3 584.4,546 585,539 585.5,533.3 586.1,523.6 586.7,516.6 587.3,513.5 587.8,521.9 588.4,532.2 589,540.6 589.5,544.6 590.1,548.3 590.7,548.2 591.2,549.6 591.8,549.4 592.4,550.1 592.9,549.7 593.5,549.1 594.1,551 594.6,550.4 595.2,549.6 595.8,549.8 596.4,549.7 596.9,546.8 597.5,544.6 598.1,540.8 598.6,535.8 599.2,532.2 599.8,532.6 600.3,539.7 600.9,543.8 601.5,546.9 602,548.6 602.6,550 603.2,550 603.8,549.9 604.3,550.3 604.9,550.5 605.5,550.6 606,550.3 606.6,551.6 607.2,550.3 607.7,551.7 608.3,550.6 608.9,551.6 609.4,552.3 610,551.5 610.6,550.9 611.2,551.5 611.7,551.5 612.3,550.3 612.9,551.1 613.4,551.6 614,551.2 614.6,551.6 615.1,552 615.7,552 616.3,552.1 616.8,551.9 617.4,551.3 618,551.5 618.5,551.3 619.1,551.3 619.7,551.4 620.3,550.3 620.8,551.3 621.4,551.5 622,550.9 622.5,551.5 623.1,551.9 623.7,551.4 624.2,552.9 624.8,549.7 625.4,551.4 625.9,550.2 626.5,552.1 627.1,553.3 627.7,549.7 628.2,551.5 628.8,551.8 629.4,551.2 629.9,551.7 630.5,549.8 631.1,551.9 631.6,551.5 632.2,551.2 632.8,550.7 633.3,551.5 633.9,550.6 634.5,551 635,550.3 635.6,548.9 636.2,550.2 636.8,550 637.3,549.8 637.9,547.8 638.5,546.7 639,543.7 639.6,537.1 640.2,527.8 640.7,515.9 641.3,505 641.9,506.4 642.4,519.2 643,531.6 643.6,540 644.2,545.2 644.7,547 645.3,548.3 645.9,550.1 646.4,549.3 647,549 647.6,549.8 648.1,552.3 648.7,552.1 649.3,550.5 649.8,550.5 650.4,551.2 651,550.6 651.5,552 652.1,551.1 652.7,550.5 653.3,552.1 653.8,550.8 654.4,551.4 655,551.2 655.5,551 656.1,551.4 656.7,550.7 657.2,549.8 657.8,549.5 658.4,550.1 658.9,550.3 659.5,550.7 660.1,550.6 660.7,550.7 661.2,550.1 661.8,549.1 662.4,548.5 662.9,546.4 663.5,545.3 664.1,541.2 664.6,533.2 665.2,521.2 665.8,509 666.3,504.7 666.9,510.8 667.5,523.7 668.1,534.8 668.6,542 669.2,546.8 669.8,547.7 670.3,548.9 670.9,549.2 671.5,549.6 672,551.4 672.6,551.8 673.2,550.8 673.7,551.3 674.3,551.8 674.9,551.7 675.4,552 676,550.4 676.6,550.9 677.2,551.7 677.7,552.3 678.3,551.5 678.9,550.9 679.4,551.2 680,551.1 680.6,550.9 681.1,552.5 681.7,551.1 682.3,551.6 682.8,553 683.4,552.3 684,551.8 684.6,551.1 685.1,551.8 685.7,552.5 686.3,551.8 686.8,552.2 687.4,551.4 688,551.5 688.5,550.9 689.1,551 689.7,550.9 690.2,547.9 690.8,546.6 691.4,543.8 691.9,540.3 692.5,539.6 693.1,542.3 693.7,546.3 694.2,548.1 694.8,549.6 695.4,549.4 695.9,552.1 696.5,551.2 697.1,551.3 697.6,550.6 698.2,551.4 698.8,550.8 699.3,551.6 699.9,551.9 700.5,551.6 701.1,551.8 701.6,551.1 702.2,552.6 702.8,551.2 703.3,550.5 703.9,551.6 704.5,551.2 705,551.1 705.6,551.5 706.2,551.9 706.7,551 707.3,551.7 707.9,552.7 708.4,552.2 709,551.6 709.6,551.8 710.2,551.7 710.7,551.7 711.3,552.2 711.9,551.7 712.4,550.2 713,551.7 713.6,551.1 714.1,552.1 714.7,551.3 715.3,551.8 715.8,553.1 716.4,551 717,550.9 717.6,550.7 718.1,550.1 718.7,550.4 719.3,551.8 719.8,551.1 720.4,550.3 721,550.5 721.5,551.8 722.1,550.9 722.7,551.1 723.2,551.4 723.8,551.9 724.4,552.2 725,551.4 725.5,550.6 726.1,550.3 726.7,550.9 727.2,549.9 727.8,547.2 728.4,544.6 728.9,538.8 729.5,529.8 730.1,518.7 730.6,510.9 731.2,513.7 731.8,522.8 732.3,534.8 732.9,541.9 733.5,545.2 734.1,549.1 734.6,549.9 735.2,548.8 735.8,551.5 736.3,551.1 736.9,552.1 737.5,550.2 738,551.5 738.6,551.5 739.2,551.4 739.7,551.5 740.3,552.1 740.9,550.5 741.5,550.7 742,550.7 742.6,551.2 743.2,551.2 743.7,551.8 744.3,551.8 744.9,551.6 745.4,551.2 746,551.4 746.6,552.2 747.1,552.1 747.7,551.7 748.3,551.5 748.8,552.6 749.4,551.3 750,552.1 750.6,552.4 751.1,551.5 751.7,552.2 752.3,551 752.8,552.3 753.4,551.8 754,550.7 754.5,552.1 755.1,551.1 755.7,552.4 756.2,551.2 756.8,551.5 757.4,551.7 758,551.3 758.5,551.7 759.1,551.1 759.7,551.8 760.2,551.4 760.8,551.5 761.4,549.6 761.9,551.9 762.5,551.1 763.1,549.8 763.6,550.8 764.2,550.8 764.8,550.9 765.3,549.1 765.9,549.9 766.5,547.4 767.1,545.9 767.6,538.8 768.2,530.6 768.8,519.4 769.3,511.6 769.9,515.1 770.5,524.5 771,535.1 771.6,542.1 772.2,545.6 772.7,547.2 773.3,548.9 773.9,549.5 774.5,549.8 775,550.9 775.6,551 776.2,550.7 776.7,551.1 777.3,551 777.9,551.2 778.4,551.5 779,551.6 779.6,550.4 780.1,549.6 780.7,550.5 781.3,548.5 781.9,547.6 782.4,544.9 783,546 783.6,547.6 784.1,548.2 784.7,549.9 785.3,551.3 785.8,551.8 786.4,552.3 787,550.9 787.5,550.7 788.1,551.9 788.7,552.2 789.2,551.8 789.8,550.9 790.4,552.1 791,552.2 791.5,552 792.1,551.4 792.7,551.9 793.2,552.2 793.8,551.4 794.4,550.7 794.9,552 795.5,552.1 796.1,551.8 796.6,552.3 797.2,551.4 797.8,551.7 798.4,551.6 798.9,552.1 799.5,552.7 800.1,551.6 800.6,553 801.2,552.7 801.8,552.3 802.3,552.1 802.9,552.8 803.5,551.7 804,551.7 804.6,551.2 805.2,552.1 805.7,552.6 806.3,552.1 806.9,552 807.5,551.7 808,551.9 808.6,551 809.2,552.4 809.7,551.6 810.3,551.2 810.9,551.4 811.4,551.3 812,552.3 812.6,552.4 813.1,551 813.7,552.4 814.3,552.3 814.9,551.5 815.4,550.9 816,551.4 816.6,551.4 817.1,552 817.7,551.6 818.3,550.6 818.8,551.9 819.4,550.9 820,552.3 820.5,551.1 821.1,551.4 821.7,551.3 822.2,551.5 822.8,552.5 823.4,552.3 824,552.1 824.5,551.9 825.1,550.9 825.7,551.4 826.2,551.4 826.8,551.2 827.4,552 827.9,551.3 828.5,551.3 829.1,551.1 829.6,550.5 830.2,552 830.8,552.4 831.4,551.7 831.9,551.1 832.5,550 833.1,551.7 833.6,552.2 834.2,551.7 834.8,552 835.3,552.2 835.9,551.9 836.5,550.9 837,551.6 837.6,551.2 838.2,549.5 838.8,549.3 839.3,547 839.9,544.9 840.5,541.3 841,536.3 841.6,534.4 842.2,538.9 842.7,542.6 843.3,546.9 843.9,547.7 844.4,550.3 845,551.5 845.6,551.8 846.1,550.7 846.7,551.1 847.3,550.8 847.9,551.5 848.4,551.5 849,550.8 849.6,549.9 850.1,550.8 850.7,549.6 851.3,549.1 851.8,546.8 852.4,544 853,538.7 853.5,532.8 854.1,531.7 854.7,535.8 855.3,539.9 855.8,545 856.4,548.4 857,550 857.5,550.4 858.1,549.8 858.7,550.1 859.2,551.1 859.8,551.2 860.4,552.5 860.9,550.6 861.5,551.7 862.1,551.3 862.6,549.6 863.2,549.4 863.8,548.8 864.4,547.2 864.9,546.7 865.5,547.5 866.1,548 866.6,549.9 867.2,550.1 867.8,550.7 868.3,551.5 868.9,551 869.5,551.6 870,552.4 870.6,551.5 871.2,551.5 871.8,552 872.3,551.4 872.9,552.2 873.5,550.9 874,551.9 874.6,551.3 875.2,551.1 875.7,552.6 876.3,551.1 876.9,552.5 877.4,551.9 878,552.4 878.6,551 879.1,552.2 879.7,552.3 880.3,551.4 880.9,551.4 881.4,552.8 882,551.6 882.6,551.2 883.1,551 883.7,551.6 884.3,551.4 884.8,551.3 885.4,552 886,550.8 886.5,551 887.1,551.2 887.7,549.3 888.3,549.3 888.8,547.6 889.4,542 890,536.9 890.5,531.6 891.1,529.3 891.7,534 892.2,538.4 892.8,544.5 893.4,548.2 893.9,548.3 894.5,549.8 895.1,549.4 895.7,551.1 896.2,550.4 896.8,550.7 897.4,550.9 897.9,551.2 898.5,550.6 899.1,550.6 899.6,550 900.2,549.6 900.8,547.5 901.3,545.7 901.9,541.5 902.5,539.5 903,540.6 903.6,542.1 904.2,544.6 904.8,547.9 905.3,548.8 905.9,549.2 906.5,550 907,550.9 907.6,550.7 908.2,550.3 908.7,549.7 909.3,549.2 909.9,549.8 910.4,547.7 911,544 911.6,538.1 912.2,531 912.7,525.5 913.3,521 913.9,526.3 914.4,534.5 915,541.2 915.6,545.7 916.1,547.6 916.7,549 917.3,551.1 917.8,550.2 918.4,551.3 919,550.2 919.5,551.1 920.1,551.5 920.7,552 921.3,550.9 921.8,551.9 922.4,551.8 923,551.2 923.5,551.9 924.1,551.2 924.7,551.3 925.2,551.8 925.8,550.4 926.4,551.8 926.9,551.4 927.5,551.2 928.1,551.7 928.7,552.4 929.2,551.8 929.8,552.7 930.4,551.5 930.9,551.4 931.5,552.9 932.1,552.4 932.6,552.7 933.2,551.8 933.8,552.7 934.3,552.4 934.9,552.6 935.5,552.3 936,553 936.6,552 937.2,551.9 937.8,551.7 938.3,553 938.9,552.1 939.5,552 940,552 940.6,552.3 941.2,551.9 941.7,552.4 942.3,552.3 942.9,552.3 943.4,552.2 944,552.7 944.6,552.5 945.2,552.8 945.7,552.9 946.3,552.9 946.9,551.7 947.4,552.5 948,552.4 948.6,553.2 949.1,552.1 949.7,552.5 950.3,552.8 950.8,552.8 951.4,553.5 952,552.8 952.6,553.5 953.1,552.3 953.7,552.2 954.3,553.7 954.8,553.3 955.4,553.4 956,553.2 956.5,553.4 957.1,552.6 957.7,553.7 958.2,553 958.8,553.8 959.4,553.3 959.9,552.3 151.8,462.5 151.7,462.8 152,465 151.3,481.6 152.7,503.7 150.9,505.5 153.1,523.4 150.4,528 153.4,535 149.9,540 220.2,104 220,137 220.6,188 219.6,266 220.8,304 219.5,312 221,381 219.3,413 221.4,470 219,471.5 221.5,499.8 218.7,519.4 221.7,519 218.5,529 222.1,534.8 217.9,540 316.8,237.3 316.5,265.4 317.4,322.3 316.1,339.7 317.6,376.8 316,383 317.7,396.2 315.8,413.9 318,447 315.4,475 318.4,493.2 315.1,504.7 318.7,516.3 314.6,525.3 319.4,533 313.8,538 497.6,332.6 497.1,376.5 498.2,390.4 496.7,422 498.5,429 496.6,436.9 498.6,444.6 496.5,453.9 498.8,461.6 496.4,467.8 499.1,495.6 495.9,508 499.4,515.8 495.5,525 499.9,532 494.8,538 212,532 212.5,540.5 211.5,546" fill="none" stroke="none" marker-start="url(#c)" marker-mid="url(#c)" marker-end="url(#c)"/></g>
<g>
<rect x="641" y="6.5" width="321" height="331" fill="#f9f9f8"/>
<defs><linearGradient id="bvl" x1="0" x2="1" y1="0" y2="0"><stop offset="0" stop-color="#a8a8a8"/><stop offset="0.08" stop-color="#d6d6d6"/><stop offset="1" stop-color="#f3f3f3"/></linearGradient><linearGradient id="bvb" x1="0" x2="0" y1="0" y2="1"><stop offset="0" stop-color="#f8f8f8"/><stop offset="1" stop-color="#fefefe"/></linearGradient><linearGradient id="bvt" x1="0" x2="0" y1="0" y2="1"><stop offset="0" stop-color="#ffffff"/><stop offset="1" stop-color="#fbfbfb"/></linearGradient><linearGradient id="bvr" x1="0" x2="1" y1="0" y2="0"><stop offset="0" stop-color="#f6f6f6"/><stop offset="0.9" stop-color="#fafafa"/><stop offset="1" stop-color="#d0d0d0"/></linearGradient><linearGradient id="shd" x1="0" x2="0" y1="0" y2="1"><stop offset="0" stop-color="#9a9a9a"/><stop offset="1" stop-color="#ffffff" stop-opacity="0"/></linearGradient><radialGradient id="rs" cx="0.5" cy="0.5" r="0.5"><stop offset="0" stop-color="#ffc8c8"/><stop offset="0.22" stop-color="#f54848"/><stop offset="0.5" stop-color="#e60c0c"/><stop offset="0.82" stop-color="#c80000"/><stop offset="1" stop-color="#a00000"/></radialGradient><radialGradient id="gs" cx="0.5" cy="0.55" r="0.5"><stop offset="0" stop-color="#c4c8ea"/><stop offset="0.25" stop-color="#b4c0c0"/><stop offset="0.85" stop-color="#a4b2a6"/><stop offset="1" stop-color="#9eac9e" stop-opacity="0.7"/></radialGradient><radialGradient id="fr" cx="0.5" cy="0.5" r="0.5"><stop offset="0" stop-color="#d07090"/><stop offset="1" stop-color="#a86a9a" stop-opacity="0.3"/></radialGradient><radialGradient id="tc" cx="0.5" cy="0.5" r="0.5"><stop offset="0" stop-color="#a84c5c"/><stop offset="1" stop-color="#b05a68" stop-opacity="0.2"/></radialGradient></defs>
<polygon points="641,6.5 664,30.6 664,313 641,337" fill="url(#bvl)"/>
<polygon points="641,6.5 962,6.5 937,30.6 664,30.6" fill="url(#bvt)"/>
<polygon points="962,6.5 962,337 937,313 937,30.6" fill="url(#bvr)"/>
<polygon points="641,337 962,337 937,313 664,313" fill="url(#bvb)"/>
<rect x="641" y="337" width="321" height="4" fill="url(#shd)"/>
</g>
<polygon points="689.0,42.3 758.1,52.2 746.7,95.9 709.3,155.5 651.4,104.8" fill="#777bc2"/>
<polygon points="859.2,15.0 918.8,66.0 879.8,129.7 810.6,119.8 799.1,54.7" fill="#8387d0"/>
<polygon points="769.6,115.5 795.2,188.9 789.8,226.8 743.1,229.4 720.9,217.6 709.3,155.5" fill="#8387d0"/>
<polygon points="810.6,119.8 879.8,129.7 891.0,193.2 830.8,233.9 795.2,188.9" fill="#8387d0"/>
<polygon points="720.9,217.6 743.1,229.4 778.7,273.2 741.6,328.8 683.8,278.5" fill="#8387d0"/>
<polygon points="743.1,229.4 789.8,226.8 778.7,273.2" fill="#777bc2"/>
<polygon points="891.0,193.2 949.2,243.5 910.0,305.8 842.0,297.5 830.8,233.9" fill="#8387d0"/>
<polygon points="746.7,95.9 769.6,115.5 709.3,155.5" fill="#8387d0"/>
<polygon points="758.1,52.2 799.1,54.7 770.3,99.8 746.7,95.9" fill="#8387d0"/>
<polygon points="770.3,99.8 769.6,115.5 810.6,119.8" fill="#8387d0"/>
<polygon points="769.6,115.5 810.6,119.8 795.2,188.9" fill="#8387d0"/>
<polygon points="795.2,188.9 830.8,233.9 789.8,226.8" fill="#8387d0"/>
<polygon points="789.8,226.8 830.8,233.9 802.6,280.8 778.7,273.2" fill="#8387d0"/>
<polygon points="778.7,273.2 802.6,280.8 800.5,290.6 741.6,328.8" fill="#7d81c8"/>
<polygon points="689.0,42.3 746.7,95.9 672.6,109.2" fill="#8c90dc"/>
<polygon points="689.0,42.3 651.4,104.8 672.6,109.2" fill="#777bc2"/>
<polygon points="672.6,109.2 746.7,95.9 709.3,155.5" fill="#878bd8"/>
<polygon points="651.4,104.8 672.6,109.2 709.3,155.5" fill="#8387d0"/>
<polygon points="689.0,42.3 758.1,52.2 746.7,95.9" fill="#7c80c6"/>
<polygon points="859.2,15.0 799.1,54.7 864.1,82.5" fill="#8c90dc"/>
<polygon points="859.2,15.0 864.1,82.5 918.8,66.0" fill="#8387d0"/>
<polygon points="864.1,82.5 918.8,66.0 879.8,129.7" fill="#777bc2"/>
<polygon points="864.1,82.5 879.8,129.7 810.6,119.8" fill="#8387d0"/>
<polygon points="799.1,54.7 864.1,82.5 810.6,119.8" fill="#8a8ed9"/>
<polygon points="810.6,119.8 871.3,175.3 795.2,188.9" fill="#8c90dc"/>
<polygon points="810.6,119.8 879.8,129.7 871.3,175.3" fill="#8387d0"/>
<polygon points="879.8,129.7 891.0,193.2 871.3,175.3" fill="#6d71b6"/>
<polygon points="871.3,175.3 891.0,193.2 830.8,233.9" fill="#8c90dc"/>
<polygon points="871.3,175.3 830.8,233.9 795.2,188.9" fill="#888cd8"/>
<polygon points="769.6,115.5 709.3,155.5 731.4,164.5" fill="#8589d5"/>
<polygon points="769.6,115.5 731.4,164.5 795.2,188.9" fill="#8c90dc"/>
<polygon points="709.3,155.5 731.4,164.5 720.9,217.6" fill="#8387d0"/>
<polygon points="731.4,164.5 720.9,217.6 743.1,229.4" fill="#8c90dc"/>
<polygon points="720.9,217.6 706.0,286.5 778.7,273.2" fill="#8c90dc"/>
<polygon points="720.9,217.6 683.8,278.5 706.0,286.5" fill="#777bc2"/>
<polygon points="683.8,278.5 706.0,286.5 741.6,328.8" fill="#8387d0"/>
<polygon points="706.0,286.5 778.7,273.2 741.6,328.8" fill="#8a8edb"/>
<polygon points="720.9,217.6 743.1,229.4 778.7,273.2" fill="#8e92de"/>
<polygon points="891.0,193.2 830.8,233.9 895.5,263.2" fill="#8c90dc"/>
<polygon points="891.0,193.2 895.5,263.2 949.2,243.5" fill="#8387d0"/>
<polygon points="949.2,243.5 895.5,263.2 910.0,305.8" fill="#777bc2"/>
<polygon points="895.5,263.2 910.0,305.8 842.0,297.5" fill="#8084cc"/>
<polygon points="830.8,233.9 895.5,263.2 842.0,297.5" fill="#8c90dc"/>
<polygon points="775.5,119.5 778.0,108.5 806.0,114.5 798.5,138.5" fill="#f9f9f8"/>
<polygon points="801.0,211.0 824.0,228.5 823.0,236.0 792.0,226.5 796.0,216.0" fill="#f9f9f8"/>
<polygon points="798.5,138.5 810.6,119.8 795.2,188.9 776.0,176.0" fill="#6e72b4"/>
<circle cx="712.5" cy="95.7" r="17" fill="url(#gs)" opacity="0.92"/>
<circle cx="855.0" cy="74.2" r="17" fill="url(#gs)" opacity="0.92"/>
<circle cx="765.6" cy="167.7" r="17" fill="url(#gs)" opacity="0.92"/>
<circle cx="834.6" cy="173.0" r="17" fill="url(#gs)" opacity="0.92"/>
<circle cx="745.2" cy="269.5" r="17" fill="url(#gs)" opacity="0.92"/>
<circle cx="886.6" cy="251.0" r="17" fill="url(#gs)" opacity="0.92"/>
<circle cx="820.3" cy="75.5" r="6" fill="url(#fr)" opacity="0.55"/>
<circle cx="892.3" cy="62.8" r="6" fill="url(#fr)" opacity="0.55"/>
<circle cx="852.9" cy="119.3" r="6" fill="url(#fr)" opacity="0.55"/>
<circle cx="851.5" cy="250.2" r="6" fill="url(#fr)" opacity="0.55"/>
<circle cx="922.5" cy="236.4" r="6" fill="url(#fr)" opacity="0.55"/>
<circle cx="772.5" cy="178.5" r="5.5" fill="url(#rs)"/>
<polygon points="758.1,52.2 799.1,54.7 746.7,95.9" fill="#ee8c8e" opacity="0.90"/>
<polygon points="746.7,95.9 799.1,54.7 770.3,99.8" fill="#c27078" opacity="0.92"/>
<polygon points="799.1,54.7 770.3,99.8 810.6,119.8" fill="#cf7474" opacity="0.92"/>
<polygon points="733.5,167.0 789.0,186.5 746.3,224.5" fill="#f08a88" opacity="0.90"/>
<polygon points="789.8,226.8 830.8,233.9 796.0,259.0" fill="#ee8c8e" opacity="0.90"/>
<polygon points="778.7,273.2 830.8,233.9 802.6,280.8" fill="#b86c78" opacity="0.92"/>
<polygon points="830.8,233.9 802.6,280.8 842.0,297.5" fill="#cd7272" opacity="0.92"/>
<circle cx="781.5" cy="90.2" r="12" fill="url(#tc)" opacity="0.7"/>
<circle cx="761.8" cy="191.0" r="12" fill="url(#tc)" opacity="0.7"/>
<circle cx="813.4" cy="266.8" r="12" fill="url(#tc)" opacity="0.7"/>
<path d="M689.0 42.3L672.6 109.2M689.0 42.3L746.7 95.9M672.6 109.2L746.7 95.9M672.6 109.2L709.3 155.5M746.7 95.9L709.3 155.5M758.1 52.2L746.7 95.9M651.4 104.8L672.6 109.2M689.0 42.3L651.4 104.8M859.2 15.0L864.1 82.5M799.1 54.7L864.1 82.5M864.1 82.5L918.8 66.0M864.1 82.5L879.8 129.7M864.1 82.5L810.6 119.8M859.2 15.0L799.1 54.7M859.2 15.0L918.8 66.0M799.1 54.7L810.6 119.8M810.6 119.8L879.8 129.7M918.8 66.0L879.8 129.7M810.6 119.8L871.3 175.3M879.8 129.7L871.3 175.3M871.3 175.3L795.2 188.9M871.3 175.3L891.0 193.2M871.3 175.3L830.8 233.9M810.6 119.8L795.2 188.9M795.2 188.9L830.8 233.9M769.6 115.5L709.3 155.5M769.6 115.5L731.4 164.5M769.6 115.5L795.2 188.9M709.3 155.5L731.4 164.5M731.4 164.5L720.9 217.6M720.9 217.6L743.1 229.4M769.6 115.5L770.3 99.8M720.9 217.6L706.0 286.5M683.8 278.5L706.0 286.5M706.0 286.5L778.7 273.2M706.0 286.5L741.6 328.8M720.9 217.6L778.7 273.2M743.1 229.4L778.7 273.2M789.8 226.8L778.7 273.2M683.8 278.5L741.6 328.8M891.0 193.2L895.5 263.2M830.8 233.9L895.5 263.2M895.5 263.2L949.2 243.5M895.5 263.2L910.0 305.8M895.5 263.2L842.0 297.5M949.2 243.5L910.0 305.8M842.0 297.5L910.0 305.8M891.0 193.2L949.2 243.5M830.8 233.9L842.0 297.5M758.1 52.2L799.1 54.7M799.1 54.7L746.7 95.9M799.1 54.7L770.3 99.8M746.7 95.9L770.3 99.8M770.3 99.8L810.6 119.8M789.8 226.8L830.8 233.9M830.8 233.9L778.7 273.2M830.8 233.9L802.6 280.8M778.7 273.2L802.6 280.8M802.6 280.8L842.0 297.5" stroke="#c4c6dc" stroke-width="1.3" fill="none" opacity="0.75"/>
<path d="M740.1 108.4L891.6 74.3M740.1 108.4L774.8 290.7M774.8 290.7L922.3 252.4M891.6 74.3L922.3 252.4" stroke="#1a1a2a" stroke-width="1.6" fill="none"/>
<path d="M680.6 96.7L740.1 108.4M688.0 136.5L706.7 240.0M834.0 234.5L922.3 252.4" stroke="#555" stroke-width="1.2" fill="none" opacity="0.8"/>
<path d="M743.0 280.2L774.8 290.7" stroke="#333" stroke-width="1.5" fill="none" opacity="0.9"/>
<path d="M712.2 269.0L743.0 280.2M680.6 96.7L697.0 93.5M873.0 78.5L891.6 74.3" stroke="#555" stroke-width="1.1" fill="none" opacity="0.3"/>
<path d="M680.6 96.7L832.1 62.6M832.1 62.6L891.6 74.3M712.2 269.0L834.0 234.5" stroke="#555" stroke-width="1.1" fill="none" opacity="0.15"/>
<circle cx="689.0" cy="42.3" r="6.9" fill="url(#rs)"/>
<circle cx="758.1" cy="52.2" r="6.9" fill="url(#rs)"/>
<circle cx="799.1" cy="54.7" r="6.9" fill="url(#rs)"/>
<circle cx="859.2" cy="15.0" r="6.9" fill="url(#rs)"/>
<circle cx="918.8" cy="66.0" r="6.9" fill="url(#rs)"/>
<circle cx="864.1" cy="82.5" r="7.5" fill="url(#rs)"/>
<circle cx="746.7" cy="95.9" r="6.9" fill="url(#rs)"/>
<circle cx="770.3" cy="99.8" r="7.5" fill="url(#rs)"/>
<circle cx="651.4" cy="104.8" r="6.9" fill="url(#rs)"/>
<circle cx="672.6" cy="109.2" r="7.5" fill="url(#rs)"/>
<circle cx="769.6" cy="115.5" r="6.9" fill="url(#rs)"/>
<circle cx="810.6" cy="119.8" r="7.5" fill="url(#rs)"/>
<circle cx="879.8" cy="129.7" r="6.9" fill="url(#rs)"/>
<circle cx="709.3" cy="155.5" r="6.9" fill="url(#rs)"/>
<circle cx="731.4" cy="164.5" r="6.9" fill="url(#rs)"/>
<circle cx="871.3" cy="175.3" r="7.5" fill="url(#rs)"/>
<circle cx="795.2" cy="188.9" r="7.5" fill="url(#rs)"/>
<circle cx="891.0" cy="193.2" r="6.9" fill="url(#rs)"/>
<circle cx="720.9" cy="217.6" r="6.9" fill="url(#rs)"/>
<circle cx="743.1" cy="229.4" r="7.5" fill="url(#rs)"/>
<circle cx="789.8" cy="226.8" r="6.9" fill="url(#rs)"/>
<circle cx="830.8" cy="233.9" r="6.9" fill="url(#rs)"/>
<circle cx="949.2" cy="243.5" r="6.9" fill="url(#rs)"/>
<circle cx="895.5" cy="263.2" r="7.5" fill="url(#rs)"/>
<circle cx="683.8" cy="278.5" r="6.9" fill="url(#rs)"/>
<circle cx="706.0" cy="286.5" r="7.5" fill="url(#rs)"/>
<circle cx="778.7" cy="273.2" r="6.9" fill="url(#rs)"/>
<circle cx="802.6" cy="280.8" r="6.9" fill="url(#rs)"/>
<circle cx="800.5" cy="290.6" r="6.9" fill="url(#rs)"/>
<circle cx="842.0" cy="297.5" r="6.9" fill="url(#rs)"/>
<circle cx="910.0" cy="305.8" r="6.9" fill="url(#rs)"/>
<circle cx="741.6" cy="328.8" r="6.9" fill="url(#rs)"/>
<g fill="none" stroke="#000">
<path d="M53.9 5H964V737H53.9Z" stroke-width="2.8"/>
<path d="M167.6 737V723.5M395.2 737V723.5M622.7 737V723.5M850.2 737V723.5M281.4 737V730.5M509 737V730.5M736.5 737V730.5M908 737V737" stroke-width="2.4"/>
<path d="M54 96.4H60.5M54 188H67.5M54 279.5H60.5M54 370.9H67.5M54 462.4H60.5M54 553.9H67.5M54 645.3H60.5" stroke-width="2.4"/>
</g>
<circle cx="961.5" cy="553.5" r="8.4" fill="#fff"/>
<polyline points="53.8,545.2 54.8,545.2 55.8,545.3 56.8,545.3 57.8,545.3 58.8,545.4 59.8,545.4 60.8,545.4 61.8,545.5 62.8,545.5 63.8,545.5 64.8,545.6 65.8,545.6 66.8,545.6 67.8,545.7 68.8,545.7 69.8,545.7 70.8,545.8 71.8,545.8 72.8,545.8 73.8,545.9 74.8,545.9 75.8,545.9 76.8,546 77.8,546 78.8,546 79.8,546.1 80.8,546.1 81.8,546.1 82.8,546.2 83.8,546.2 84.8,546.2 85.8,546.3 86.8,546.3 87.8,546.4 88.8,546.4 89.8,546.4 90.8,546.5 91.8,546.5 92.8,546.5 93.8,546.6 94.8,546.6 95.8,546.6 96.8,546.7 97.8,546.7 98.8,546.7 99.8,546.8 100.8,546.8 101.8,546.8 102.8,546.9 103.8,546.9 104.8,546.9 105.8,547 106.8,547 107.8,547 108.8,547.1 109.8,547.1 110.8,547.1 111.8,547.2 112.8,547.2 113.8,547.2 114.8,547.3 115.8,547.3 116.8,547.3 117.8,547.4 118.8,547.4 119.8,547.4 120.8,547.5 121.8,547.5 122.8,547.5 123.8,547.6 124.8,547.6 125.8,547.6 126.8,547.7 127.8,547.7 128.8,547.7 129.8,547.8 130.8,547.8 131.8,547.8 132.8,547.9 133.8,547.9 134.8,547.9 135.8,548 136.8,548 137.8,548 138.8,548 139.8,548.1 140.8,548.1 141.8,548.1 142.8,548.1 143.8,548.1 144.8,548.1 145.8,548 146,548 146.2,548 146.4,547.9 146.6,547.9 146.8,547.9 147,547.9 147.2,547.8 147.4,547.8 147.6,547.7 147.8,547.7 148,547.6 148.2,547.5 148.4,547.4 148.6,547.3 148.8,547.2 149,547 149.2,546.7 149.4,546.5 149.6,546.1 149.8,545.5 150,544.6 150.2,542.8 150.4,538.9 150.6,530.5 150.8,515.1 151,491.8 151.2,464.8 151.4,444.8 151.6,444.8 151.8,464.8 152,491.8 152.2,515.1 152.4,530.5 152.6,538.9 152.8,542.8 153,544.6 153.2,545.6 153.4,546.1 153.6,546.5 153.8,546.8 154,547.1 154.2,547.3 154.4,547.4 154.6,547.5 154.8,547.6 155,547.7 155.2,547.8 155.4,547.9 155.6,547.9 155.8,548 156,548 156.2,548.1 156.4,548.1 156.6,548.1 156.8,548.2 157,548.2 157.2,548.2 157.4,548.2 157.6,548.2 158.6,548.3 159.6,548.4 160.6,548.4 161.6,548.5 162.6,548.5 163.6,548.5 164.6,548.6 165.6,548.6 166.6,548.6 167.6,548.6 168.6,548.6 169.6,548.7 170.6,548.7 171.6,548.7 172.6,548.7 173.6,548.7 174.6,548.8 175.6,548.8 176.6,548.8 177.6,548.8 178.6,548.8 179.6,548.9 180.6,548.9 181.6,548.9 182.6,548.9 183.6,548.9 184.6,548.9 185.6,548.9 186.6,549 187.6,549 188.6,549 189.6,549 190.6,549 191.6,549 192.6,549.1 193.6,549.1 194.6,549.1 195.6,549.1 196.6,549.1 197.6,549.1 198.6,549.1 199.6,549.1 200.6,549.2 201.6,549.2 202.6,549.2 203.6,549.2 204.6,549.2 205.6,549.2 206.6,549.2 207.6,549.1 208.6,549.1 209.6,549.1 210.6,549 211.6,548.9 212.6,548.8 213.6,548.6 214.6,548.2 214.8,548.1 215,548 215.2,547.9 215.4,547.8 215.6,547.6 215.8,547.4 216,547.2 216.2,547 216.4,546.7 216.6,546.4 216.8,546 217,545.5 217.2,545 217.4,544.3 217.6,543.4 217.8,542.3 218,540.9 218.2,538.9 218.4,536 218.6,530.7 218.8,519.6 219,495.1 219.2,446.4 219.4,364.4 219.6,254.8 219.8,148.5 220,101.5 220.2,148.6 220.4,254.8 220.6,364.5 220.8,446.4 221,495.2 221.2,519.6 221.4,530.8 221.6,536 221.8,539 222,540.9 222.2,542.4 222.4,543.5 222.6,544.4 222.8,545.1 223,545.6 223.2,546.1 223.4,546.5 223.6,546.8 223.8,547.1 224,547.4 224.2,547.6 224.4,547.8 224.6,547.9 224.8,548.1 225,548.2 225.2,548.3 225.4,548.4 225.6,548.5 225.8,548.6 226,548.7 226.2,548.7 227.2,549 228.2,549.2 229.2,549.3 230.2,549.4 231.2,549.5 232.2,549.5 233.2,549.6 234.2,549.6 235.2,549.7 236.2,549.7 237.2,549.7 238.2,549.8 239.2,549.8 240.2,549.8 241.2,549.8 242.2,549.9 243.2,549.9 244.2,549.9 245.2,549.9 246.2,549.9 247.2,550 248.2,550 249.2,550 250.2,550 251.2,550 252.2,550.1 253.2,550.1 254.2,550.1 255.2,550.1 256.2,550.1 257.2,550.1 258.2,550.2 259.2,550.2 260.2,550.2 261.2,550.2 262.2,550.3 263.2,550.3 264.2,550.3 265.2,550.3 266.2,550.3 267.2,550.3 268.2,550.3 269.2,550.4 270.2,550.4 271.2,550.4 272.2,550.4 273.2,550.4 274.2,550.4 275.2,550.5 276.2,550.5 277.2,550.5 278.2,550.5 279.2,550.5 280.2,550.5 281.2,550.5 282.2,550.5 283.2,550.5 284.2,550.5 285.2,550.5 286.2,550.5 287.2,550.5 287.4,550.5 287.6,550.5 287.8,550.5 288,550.5 288.2,550.5 288.4,550.4 288.6,550.4 288.8,550.4 289,550.4 289.2,550.3 289.4,550.3 289.6,550.3 289.8,550.2 290,550.1 290.2,550 290.4,549.9 290.6,549.8 290.8,549.5 291,549.1 291.2,548.1 291.4,546.3 291.6,543 291.8,537.8 292,530.9 292.2,523.7 292.4,518.8 292.6,518.8 292.8,523.7 293,530.9 293.2,537.8 293.4,543 293.6,546.3 293.8,548.1 294,549.1 294.2,549.5 294.4,549.8 294.6,549.9 294.8,550.1 295,550.1 295.2,550.2 295.4,550.3 295.6,550.3 295.8,550.4 296,550.4 296.2,550.4 296.4,550.4 296.6,550.5 296.8,550.5 297,550.5 297.2,550.5 297.4,550.5 297.6,550.5 297.8,550.5 298,550.6 298.2,550.6 298.4,550.6 298.6,550.6 299.6,550.6 300.6,550.6 301.6,550.6 302.6,550.6 303.6,550.6 304.6,550.6 305.6,550.5 306.6,550.5 307.6,550.4 308.6,550.4 309.6,550.3 310.6,550.1 311.6,549.8 311.8,549.7 312,549.7 312.2,549.6 312.4,549.5 312.6,549.3 312.8,549.2 313,549 313.2,548.8 313.4,548.6 313.6,548.4 313.8,548 314,547.7 314.2,547.2 314.4,546.6 314.6,545.9 314.8,545 315,543.8 315.2,541.9 315.4,538.7 315.6,532.3 315.8,518.9 316,492.6 316.2,448 316.4,385.3 316.6,316.5 316.8,267.5 317,267.5 317.2,316.5 317.4,385.3 317.6,448 317.8,492.6 318,518.9 318.2,532.3 318.4,538.8 318.6,541.9 318.8,543.8 319,545 319.2,545.9 319.4,546.7 319.6,547.2 319.8,547.7 320,548.1 320.2,548.4 320.4,548.6 320.6,548.9 320.8,549.1 321,549.2 321.2,549.4 321.4,549.5 321.6,549.6 321.8,549.7 322,549.8 322.2,549.9 322.4,549.9 322.6,550 322.8,550 323,550.1 324,550.3 325,550.4 326,550.5 327,550.6 328,550.6 329,550.6 330,550.6 331,550.6 332,550.6 333,550.5 333.2,550.5 333.4,550.5 333.6,550.5 333.8,550.5 334,550.4 334.2,550.4 334.4,550.4 334.6,550.3 334.8,550.3 335,550.2 335.2,550.2 335.4,550.1 335.6,550 335.8,549.9 336,549.7 336.2,549.6 336.4,549.3 336.6,549.1 336.8,548.7 337,548 337.2,546.9 337.4,544.7 337.6,540.2 337.8,532.1 338,519.3 338.2,502.4 338.4,484.7 338.6,472.5 338.8,472.5 339,484.7 339.2,502.4 339.4,519.3 339.6,532.1 339.8,540.2 340,544.7 340.2,546.9 340.4,548.1 340.6,548.7 340.8,549.1 341,549.4 341.2,549.6 341.4,549.8 341.6,549.9 341.8,550.1 342,550.2 342.2,550.2 342.4,550.3 342.6,550.4 342.8,550.4 343,550.5 343.2,550.5 343.4,550.5 343.6,550.6 343.8,550.6 344,550.6 344.2,550.7 344.4,550.7 344.6,550.7 344.8,550.7 345.8,550.8 346.8,550.8 347.8,550.9 348.8,550.9 349.8,550.9 350.8,550.9 351.8,550.9 352.8,550.9 353.8,550.9 354.8,550.9 355.8,550.9 356.8,550.9 357.8,551 358.8,551 359.8,551 360.8,551 361.8,550.9 362.8,550.9 363,550.9 363.2,550.9 363.4,550.9 363.6,550.9 363.8,550.9 364,550.9 364.2,550.9 364.4,550.9 364.6,550.8 364.8,550.8 365,550.8 365.2,550.8 365.4,550.7 365.6,550.7 365.8,550.6 366,550.6 366.2,550.5 366.4,550.3 366.6,549.9 366.8,549.2 367,547.9 367.2,545.7 367.4,542.4 367.6,538.5 367.8,535 368,533.6 368.2,535 368.4,538.5 368.6,542.4 368.8,545.7 369,547.9 369.2,549.2 369.4,549.9 369.6,550.3 369.8,550.5 370,550.6 370.2,550.7 370.4,550.7 370.6,550.7 370.8,550.8 371,550.8 371.2,550.8 371.4,550.9 371.6,550.9 371.8,550.9 372,550.9 372.2,550.9 372.4,550.9 372.6,550.9 372.8,550.9 373,550.9 373.2,550.9 373.4,550.9 373.6,551 373.8,551 374,551 374.2,551 375.2,551 376.2,551 377.2,551 378.2,551 379.2,551 380.2,551 381.2,551 382.2,551 383.2,551 384.2,551 385.2,551 386.2,551 387.2,550.9 388.2,550.9 389.2,550.8 389.4,550.8 389.6,550.8 389.8,550.8 390,550.8 390.2,550.7 390.4,550.7 390.6,550.7 390.8,550.6 391,550.6 391.2,550.5 391.4,550.4 391.6,550.4 391.8,550.3 392,550.1 392.2,550 392.4,549.7 392.6,549.4 392.8,548.9 393,547.8 393.2,545.7 393.4,541.7 393.6,534.8 393.8,524.8 394,512.9 394.2,502.4 394.4,498 394.6,502.4 394.8,512.9 395,524.8 395.2,534.8 395.4,541.7 395.6,545.7 395.8,547.8 396,548.9 396.2,549.4 396.4,549.8 396.6,550 396.8,550.1 397,550.3 397.2,550.4 397.4,550.5 397.6,550.5 397.8,550.6 398,550.6 398.2,550.7 398.4,550.7 398.6,550.7 398.8,550.8 399,550.8 399.2,550.8 399.4,550.8 399.6,550.9 399.8,550.9 400,550.9 400.2,550.9 400.4,550.9 400.6,550.9 401.6,551 402.6,551 403.6,551 404.6,551 405.6,551 406.6,551 407.6,551 408.6,551 409.6,551.1 410.6,551.1 411.6,551.1 412.6,551.1 413.6,551.1 414.6,551.1 415.6,551.1 416.6,551.1 417.6,551.1 418.6,551.1 419.6,551.1 420.6,551.1 421.6,551.1 422.6,551.1 423.6,551.1 424.6,551.1 425.6,551.1 426.6,551.1 427.6,551.1 428.6,551.1 429.6,551.1 430.6,551.1 431.6,551.1 432.6,551.1 433.6,551.1 434.6,551.1 435.6,551.1 436.6,551.1 437.6,551.1 438.6,551 439.6,551 440.6,551 440.8,551 441,551 441.2,550.9 441.4,550.9 441.6,550.9 441.8,550.9 442,550.9 442.2,550.8 442.4,550.8 442.6,550.8 442.8,550.7 443,550.7 443.2,550.6 443.4,550.5 443.6,550.4 443.8,550.3 444,550.1 444.2,549.8 444.4,549.2 444.6,548.1 444.8,546 445,542.4 445.2,537.1 445.4,530.4 445.6,523.7 445.8,519.2 446,519.2 446.2,523.7 446.4,530.4 446.6,537.1 446.8,542.4 447,546 447.2,548.1 447.4,549.2 447.6,549.8 447.8,550.1 448,550.3 448.2,550.4 448.4,550.5 448.6,550.6 448.8,550.7 449,550.7 449.2,550.8 449.4,550.8 449.6,550.9 449.8,550.9 450,550.9 450.2,550.9 450.4,550.9 450.6,551 450.8,551 451,551 451.2,551 451.4,551 451.6,551 451.8,551 452,551 453,551.1 454,551.1 455,551.1 456,551.1 457,551.1 458,551.1 459,551.1 460,551.1 461,551.1 462,551.1 463,551.1 464,551.1 465,551.1 466,551.1 467,551.1 468,551.1 469,551.1 470,551.1 471,551 472,551 473,551 474,551 474.2,550.9 474.4,550.9 474.6,550.9 474.8,550.9 475,550.9 475.2,550.9 475.4,550.8 475.6,550.8 475.8,550.8 476,550.8 476.2,550.7 476.4,550.7 476.6,550.6 476.8,550.5 477,550.5 477.2,550.4 477.4,550.3 477.6,550.1 477.8,549.9 478,549.7 478.2,549.2 478.4,548.4 478.6,546.8 478.8,543.7 479,538.7 479.2,531.1 479.4,521.6 479.6,512.1 479.8,505.7 480,505.7 480.2,512.1 480.4,521.6 480.6,531.1 480.8,538.6 481,543.7 481.2,546.7 481.4,548.3 481.6,549.2 481.8,549.6 482,549.9 482.2,550.1 482.4,550.2 482.6,550.3 482.8,550.4 483,550.5 483.2,550.6 483.4,550.6 483.6,550.6 483.8,550.7 484,550.7 484.2,550.7 484.4,550.8 484.6,550.8 484.8,550.8 485,550.8 485.2,550.8 485.4,550.8 485.6,550.8 485.8,550.8 486,550.8 487,550.8 488,550.8 489,550.8 490,550.7 491,550.5 492,550.3 492.2,550.3 492.4,550.2 492.6,550.1 492.8,550 493,549.9 493.2,549.8 493.4,549.7 493.6,549.6 493.8,549.4 494,549.2 494.2,549 494.4,548.7 494.6,548.4 494.8,548 495,547.5 495.2,547 495.4,546.2 495.6,545.1 495.8,543.5 496,540.7 496.2,535.3 496.4,524.9 496.6,506.3 496.8,476.8 497,436.3 497.2,390.3 497.4,350.9 497.6,334.8 497.8,350.9 498,390.3 498.2,436.3 498.4,476.8 498.6,506.3 498.8,524.9 499,535.3 499.2,540.7 499.4,543.5 499.6,545.1 499.8,546.2 500,547 500.2,547.5 500.4,548 500.6,548.4 500.8,548.7 501,549 501.2,549.2 501.4,549.4 501.6,549.6 501.8,549.7 502,549.8 502.2,549.9 502.4,550 502.6,550.1 502.8,550.2 503,550.3 503.2,550.3 503.4,550.4 503.6,550.4 503.8,550.5 504.8,550.6 505.8,550.7 506.8,550.8 507.8,550.8 508,550.8 508.2,550.7 508.4,550.7 508.6,550.7 508.8,550.7 509,550.7 509.2,550.7 509.4,550.6 509.6,550.6 509.8,550.6 510,550.5 510.2,550.5 510.4,550.4 510.6,550.3 510.8,550.2 511,550.1 511.2,549.9 511.4,549.7 511.6,549.4 511.8,549 512,548.2 512.2,546.7 512.4,543.7 512.6,538.5 512.8,530.2 513,518.8 513.2,505.9 513.4,494.8 513.6,490.3 513.8,494.8 514,505.9 514.2,518.9 514.4,530.2 514.6,538.5 514.8,543.8 515,546.7 515.2,548.2 515.4,549 515.6,549.5 515.8,549.8 516,550 516.2,550.2 516.4,550.3 516.6,550.4 516.8,550.5 517,550.6 517.2,550.6 517.4,550.7 517.6,550.7 517.8,550.8 518,550.8 518.2,550.8 518.4,550.9 518.6,550.9 518.8,550.9 519,550.9 519.2,550.9 519.4,551 519.6,551 519.8,551 520,551 520.2,551 520.4,551 520.6,551 520.8,551 521,551 521.2,551 521.4,551 521.6,551 521.8,551 522,551 522.2,551 522.4,550.9 522.6,550.9 522.8,550.9 523,550.9 523.2,550.8 523.4,550.7 523.6,550.6 523.8,550.4 524,550.1 524.2,549.4 524.4,548.2 524.6,546.4 524.8,543.7 525,540.6 525.2,537.5 525.4,535.5 525.6,535.5 525.8,537.5 526,540.6 526.2,543.8 526.4,546.4 526.6,548.3 526.8,549.5 527,550.1 527.2,550.5 527.4,550.7 527.6,550.8 527.8,550.9 528,550.9 528.2,551 528.4,551 528.6,551.1 528.8,551.1 529,551.1 529.2,551.1 529.4,551.1 529.6,551.1 529.8,551.2 530,551.2 530.2,551.2 530.4,551.2 530.6,551.2 530.8,551.2 531,551.2 531.2,551.2 531.4,551.2 531.6,551.2 532.6,551.3 533.6,551.3 534.6,551.3 535.6,551.3 536.6,551.3 537.6,551.3 538.6,551.3 539.6,551.3 540.6,551.4 541.6,551.4 542.6,551.4 543.6,551.4 544.6,551.4 545.6,551.4 546.6,551.4 547.6,551.4 548.6,551.4 549.6,551.4 550.6,551.4 551.6,551.4 551.8,551.4 552,551.4 552.2,551.4 552.4,551.4 552.6,551.3 552.8,551.3 553,551.3 553.2,551.3 553.4,551.3 553.6,551.3 553.8,551.3 554,551.3 554.2,551.2 554.4,551.2 554.6,551.2 554.8,551.1 555,551 555.2,550.7 555.4,550.2 555.6,549.5 555.8,548.3 556,546.8 556.2,545.1 556.4,543.7 556.6,543.2 556.8,543.7 557,545.1 557.2,546.8 557.4,548.3 557.6,549.5 557.8,550.3 558,550.7 558.2,551 558.4,551.1 558.6,551.2 558.8,551.2 559,551.3 559.2,551.3 559.4,551.3 559.6,551.3 559.8,551.3 560,551.4 560.2,551.4 560.4,551.4 560.6,551.4 560.8,551.4 561,551.4 561.2,551.4 561.4,551.4 561.6,551.4 561.8,551.4 562,551.4 562.2,551.4 562.4,551.4 562.6,551.4 563.6,551.4 564.6,551.4 565.6,551.5 566.6,551.5 567.6,551.5 568.6,551.5 569.6,551.5 570.6,551.5 571.6,551.5 572.6,551.5 573.6,551.5 574.6,551.5 575.6,551.5 576.6,551.5 577.6,551.5 578.6,551.4 579.6,551.4 580.6,551.4 581.6,551.3 581.8,551.3 582,551.3 582.2,551.3 582.4,551.2 582.6,551.2 582.8,551.2 583,551.2 583.2,551.1 583.4,551.1 583.6,551 583.8,550.9 584,550.9 584.2,550.8 584.4,550.7 584.6,550.5 584.8,550.3 585,550 585.2,549.6 585.4,548.8 585.6,547.3 585.8,544.5 586,539.9 586.2,533.1 586.4,524.1 586.6,514.2 586.8,506.1 587,502.8 587.2,506.1 587.4,514.2 587.6,524.1 587.8,533.1 588,540 588.2,544.6 588.4,547.3 588.6,548.8 588.8,549.6 589,550 589.2,550.3 589.4,550.5 589.6,550.7 589.8,550.8 590,550.9 590.2,551 590.4,551 590.6,551.1 590.8,551.1 591,551.2 591.2,551.2 591.4,551.2 591.6,551.3 591.8,551.3 592,551.3 592.2,551.3 592.4,551.3 592.6,551.4 592.8,551.4 593,551.4 593.2,551.4 593.4,551.4 593.6,551.4 593.8,551.4 594,551.4 594.2,551.4 594.4,551.4 594.6,551.4 594.8,551.4 595,551.4 595.2,551.4 595.4,551.4 595.6,551.4 595.8,551.4 596,551.4 596.2,551.3 596.4,551.3 596.6,551.3 596.8,551.2 597,551.2 597.2,551.1 597.4,550.9 597.6,550.5 597.8,549.9 598,548.7 598.2,547.1 598.4,544.9 598.6,542.5 598.8,540.5 599,539.8 599.2,540.5 599.4,542.5 599.6,544.9 599.8,547.1 600,548.8 600.2,549.9 600.4,550.6 600.6,550.9 600.8,551.1 601,551.2 601.2,551.3 601.4,551.3 601.6,551.4 601.8,551.4 602,551.4 602.2,551.4 602.4,551.5 602.6,551.5 602.8,551.5 603,551.5 603.2,551.5 603.4,551.5 603.6,551.5 603.8,551.5 604,551.5 604.2,551.5 604.4,551.5 604.6,551.5 604.8,551.5 605,551.5 605.2,551.5 605.4,551.4 605.6,551.4 605.8,551.2 606,551 606.2,550.7 606.4,550.3 606.6,549.9 606.8,549.6 607,549.5 607.2,549.6 607.4,549.9 607.6,550.3 607.8,550.7 608,551 608.2,551.3 608.4,551.4 608.6,551.5 608.8,551.5 609,551.6 609.2,551.6 609.4,551.6 609.6,551.6 609.8,551.6 610,551.6 610.2,551.6 610.4,551.6 610.6,551.6 610.8,551.6 611,551.6 611.2,551.6 611.4,551.6 611.6,551.6 611.8,551.6 612,551.6 612.2,551.6 612.4,551.6 612.6,551.6 612.8,551.6 613,551.6 614,551.7 615,551.7 616,551.7 617,551.7 618,551.7 619,551.7 620,551.7 621,551.7 622,551.7 623,551.7 624,551.7 625,551.7 626,551.7 627,551.7 628,551.7 629,551.7 630,551.7 631,551.7 632,551.7 633,551.7 634,551.6 635,551.6 636,551.5 636.2,551.5 636.4,551.5 636.6,551.4 636.8,551.4 637,551.4 637.2,551.4 637.4,551.3 637.6,551.3 637.8,551.2 638,551.1 638.2,551.1 638.4,551 638.6,550.9 638.8,550.7 639,550.6 639.2,550.4 639.4,550.1 639.6,549.6 639.8,548.9 640,547.5 640.2,545 640.4,540.5 640.6,533.3 640.8,523.3 641,511.2 641.2,499.4 641.4,491.8 641.6,491.8 641.8,499.4 642,511.2 642.2,523.3 642.4,533.3 642.6,540.5 642.8,545 643,547.5 643.2,548.9 643.4,549.6 643.6,550.1 643.8,550.4 644,550.6 644.2,550.7 644.4,550.9 644.6,551 644.8,551.1 645,551.2 645.2,551.2 645.4,551.3 645.6,551.3 645.8,551.4 646,551.4 646.2,551.4 646.4,551.5 646.6,551.5 646.8,551.5 647,551.5 647.2,551.5 647.4,551.6 647.6,551.6 648.6,551.6 649.6,551.7 650.6,551.7 651.6,551.7 652.6,551.7 653.6,551.7 654.6,551.7 655.6,551.7 656.6,551.7 657.6,551.7 658.6,551.7 659.6,551.7 660.6,551.6 660.8,551.6 661,551.6 661.2,551.6 661.4,551.6 661.6,551.6 661.8,551.5 662,551.5 662.2,551.5 662.4,551.5 662.6,551.4 662.8,551.4 663,551.3 663.2,551.3 663.4,551.2 663.6,551.1 663.8,551 664,550.9 664.2,550.7 664.4,550.4 664.6,549.9 664.8,549 665,547.3 665.2,544.3 665.4,539.5 665.6,532.8 665.8,524.8 666,517 666.2,511.9 666.4,511.9 666.6,517 666.8,524.8 667,532.8 667.2,539.5 667.4,544.3 667.6,547.3 667.8,549 668,549.9 668.2,550.4 668.4,550.7 668.6,550.9 668.8,551 669,551.1 669.2,551.2 669.4,551.3 669.6,551.3 669.8,551.4 670,551.4 670.2,551.5 670.4,551.5 670.6,551.5 670.8,551.6 671,551.6 671.2,551.6 671.4,551.6 671.6,551.6 671.8,551.6 672,551.7 672.2,551.7 672.4,551.7 673.4,551.7 674.4,551.7 675.4,551.8 676.4,551.8 677.4,551.8 678.4,551.8 679.4,551.8 680.4,551.8 681.4,551.8 682.4,551.8 683.4,551.8 684.4,551.8 685.4,551.8 686.4,551.8 686.6,551.8 686.8,551.8 687,551.7 687.2,551.7 687.4,551.7 687.6,551.7 687.8,551.7 688,551.7 688.2,551.7 688.4,551.7 688.6,551.7 688.8,551.6 689,551.6 689.2,551.6 689.4,551.6 689.6,551.5 689.8,551.5 690,551.4 690.2,551.3 690.4,551.2 690.6,551 690.8,550.6 691,550 691.2,548.8 691.4,547 691.6,544.4 691.8,541.2 692,537.8 692.2,535 692.4,533.9 692.6,535 692.8,537.8 693,541.2 693.2,544.4 693.4,547 693.6,548.8 693.8,550 694,550.6 694.2,551 694.4,551.2 694.6,551.3 694.8,551.4 695,551.5 695.2,551.5 695.4,551.6 695.6,551.6 695.8,551.6 696,551.6 696.2,551.7 696.4,551.7 696.6,551.7 696.8,551.7 697,551.7 697.2,551.7 697.4,551.7 697.6,551.8 697.8,551.8 698,551.8 698.2,551.8 698.4,551.8 699.4,551.8 700.4,551.8 701.4,551.8 702.4,551.8 703.4,551.8 704.4,551.8 705.4,551.8 706.4,551.8 707.4,551.8 708.4,551.8 709.4,551.8 710.4,551.8 711.4,551.8 712.4,551.8 713.4,551.8 714.4,551.8 715.4,551.8 716.4,551.8 717.4,551.8 718.4,551.8 719.4,551.8 720.4,551.8 721.4,551.8 722.4,551.8 723.4,551.8 724.4,551.7 725.4,551.7 725.6,551.7 725.8,551.6 726,551.6 726.2,551.6 726.4,551.6 726.6,551.5 726.8,551.5 727,551.5 727.2,551.4 727.4,551.4 727.6,551.3 727.8,551.2 728,551.1 728.2,551 728.4,550.9 728.6,550.7 728.8,550.4 729,549.9 729.2,549 729.4,547.4 729.6,544.7 729.8,540.4 730,534.2 730.2,526.5 730.4,518.3 730.6,511.7 730.8,509.1 731,511.7 731.2,518.3 731.4,526.5 731.6,534.2 731.8,540.4 732,544.7 732.2,547.4 732.4,549 732.6,549.9 732.8,550.4 733,550.7 733.2,550.9 733.4,551 733.6,551.1 733.8,551.2 734,551.3 734.2,551.4 734.4,551.4 734.6,551.5 734.8,551.5 735,551.5 735.2,551.6 735.4,551.6 735.6,551.6 735.8,551.6 736,551.7 736.2,551.7 736.4,551.7 736.6,551.7 736.8,551.7 737.8,551.8 738.8,551.8 739.8,551.8 740.8,551.8 741.8,551.8 742.8,551.8 743.8,551.8 744.8,551.9 745.8,551.9 746.8,551.9 747.8,551.9 748.8,551.9 749.8,551.9 750.8,551.8 751,551.8 751.2,551.8 751.4,551.8 751.6,551.8 751.8,551.8 752,551.8 752.2,551.8 752.4,551.8 752.6,551.8 752.8,551.8 753,551.8 753.2,551.8 753.4,551.8 753.6,551.8 753.8,551.8 754,551.8 754.2,551.8 754.4,551.8 754.6,551.7 754.8,551.6 755,551.5 755.2,551.3 755.4,551.1 755.6,550.7 755.8,550.4 756,550.1 756.2,549.9 756.4,550.1 756.6,550.4 756.8,550.7 757,551.1 757.2,551.3 757.4,551.5 757.6,551.6 757.8,551.7 758,551.7 758.2,551.8 758.4,551.8 758.6,551.8 758.8,551.8 759,551.8 759.2,551.8 759.4,551.8 759.6,551.8 759.8,551.8 760,551.8 760.2,551.8 760.4,551.8 760.6,551.8 760.8,551.8 761,551.8 761.2,551.8 761.4,551.8 761.6,551.8 761.8,551.8 762,551.7 762.2,551.7 763.2,551.7 764.2,551.6 764.4,551.6 764.6,551.6 764.8,551.6 765,551.5 765.2,551.5 765.4,551.5 765.6,551.4 765.8,551.4 766,551.3 766.2,551.3 766.4,551.2 766.6,551.1 766.8,551 767,550.9 767.2,550.7 767.4,550.4 767.6,550 767.8,549.3 768,548.1 768.2,545.8 768.4,542.1 768.6,536.5 768.8,528.9 769,520.2 769.2,512 769.4,506.7 769.6,506.7 769.8,512 770,520.2 770.2,528.9 770.4,536.5 770.6,542.1 770.8,545.8 771,548.1 771.2,549.3 771.4,550 771.6,550.4 771.8,550.7 772,550.9 772.2,551 772.4,551.1 772.6,551.2 772.8,551.3 773,551.3 773.2,551.4 773.4,551.4 773.6,551.5 773.8,551.5 774,551.5 774.2,551.6 774.4,551.6 774.6,551.6 774.8,551.6 775,551.6 775.2,551.6 775.4,551.7 775.6,551.7 776.6,551.7 776.8,551.7 777,551.7 777.2,551.7 777.4,551.7 777.6,551.7 777.8,551.7 778,551.7 778.2,551.7 778.4,551.7 778.6,551.7 778.8,551.7 779,551.7 779.2,551.7 779.4,551.6 779.6,551.6 779.8,551.6 780,551.6 780.2,551.5 780.4,551.5 780.6,551.4 780.8,551.3 781,551.1 781.2,550.7 781.4,550 781.6,548.8 781.8,547.2 782,545.2 782.2,543.1 782.4,541.3 782.6,540.7 782.8,541.3 783,543.1 783.2,545.2 783.4,547.2 783.6,548.8 783.8,550 784,550.7 784.2,551.1 784.4,551.3 784.6,551.4 784.8,551.5 785,551.6 785.2,551.6 785.4,551.6 785.6,551.7 785.8,551.7 786,551.7 786.2,551.7 786.4,551.7 786.6,551.7 786.8,551.8 787,551.8 787.2,551.8 787.4,551.8 787.6,551.8 787.8,551.8 788,551.8 788.2,551.8 788.4,551.8 788.6,551.8 789.6,551.8 790.6,551.8 791.6,551.8 792.6,551.8 793.6,551.8 794.6,551.8 795.6,551.8 796.6,551.8 797.6,551.8 798.6,551.8 799.6,551.8 800.6,551.8 801.6,551.8 802.6,551.8 803.6,551.8 804.6,551.8 805.6,551.8 806.6,551.8 807.6,551.8 808.6,551.8 809.6,551.8 810.6,551.8 811.6,551.8 812.6,551.8 813.6,551.8 814.6,551.8 815.6,551.8 816.6,551.8 817.6,551.8 818.6,551.8 819.6,551.8 820.6,551.8 821.6,551.8 822.6,551.8 823.6,551.8 824.6,551.8 825.6,551.8 826.6,551.8 827.6,551.8 828.6,551.8 829.6,551.8 830.6,551.8 831.6,551.8 832.6,551.8 833.6,551.8 834.6,551.8 835.6,551.8 836.6,551.8 837.6,551.7 837.8,551.7 838,551.7 838.2,551.7 838.4,551.7 838.6,551.7 838.8,551.7 839,551.6 839.2,551.6 839.4,551.6 839.6,551.6 839.8,551.6 840,551.5 840.2,551.5 840.4,551.4 840.6,551.4 840.8,551.3 841,551.1 841.2,550.8 841.4,550.3 841.6,549.4 841.8,548.1 842,546.1 842.2,543.6 842.4,540.7 842.6,538.1 842.8,536.5 843,536.5 843.2,538.1 843.4,540.7 843.6,543.5 843.8,546.1 844,548 844.2,549.4 844.4,550.3 844.6,550.8 844.8,551.1 845,551.2 845.2,551.3 845.4,551.4 845.6,551.4 845.8,551.5 846,551.5 846.2,551.5 846.4,551.5 846.6,551.6 846.8,551.6 847,551.6 847.2,551.6 847.4,551.6 847.6,551.6 847.8,551.6 848,551.6 848.2,551.6 848.4,551.6 848.6,551.6 848.8,551.6 849,551.5 849.2,551.5 849.4,551.5 849.6,551.5 849.8,551.5 850,551.4 850.2,551.4 850.4,551.3 850.6,551.3 850.8,551.2 851,551.1 851.2,550.9 851.4,550.6 851.6,550.1 851.8,549.2 852,547.8 852.2,545.6 852.4,542.7 852.6,539.1 852.8,535.5 853,532.6 853.2,531.4 853.4,532.5 853.6,535.3 853.8,538.8 854,542.1 854.2,544.5 854.4,545.8 854.6,545.8 854.8,544.7 855,543 855.2,541.4 855.4,540.8 855.6,541.7 855.8,543.7 856,545.9 856.2,547.9 856.4,549.3 856.6,550.2 856.8,550.8 857,551 857.2,551.2 857.4,551.3 857.6,551.4 857.8,551.4 858,551.4 858.2,551.5 858.4,551.5 858.6,551.5 858.8,551.5 859,551.5 859.2,551.5 859.4,551.6 859.6,551.6 859.8,551.6 860,551.5 860.2,551.5 860.4,551.5 860.6,551.5 860.8,551.5 861,551.4 861.2,551.3 861.4,551.1 861.6,550.8 861.8,550.3 862,549.6 862.2,548.5 862.4,547.3 862.6,546 862.8,544.9 863,544.5 863.2,544.9 863.4,546 863.6,547.3 863.8,548.5 864,549.6 864.2,550.4 864.4,550.9 864.6,551.2 864.8,551.4 865,551.5 865.2,551.5 865.4,551.6 865.6,551.6 865.8,551.6 866,551.6 866.2,551.7 866.4,551.7 866.6,551.7 866.8,551.7 867,551.7 867.2,551.7 867.4,551.7 867.6,551.7 867.8,551.7 868,551.7 868.2,551.7 868.4,551.7 868.6,551.7 868.8,551.7 869,551.7 870,551.7 871,551.7 872,551.8 873,551.8 874,551.7 875,551.7 876,551.7 877,551.7 878,551.7 879,551.7 880,551.7 881,551.7 882,551.7 883,551.7 884,551.6 885,551.6 885.2,551.6 885.4,551.6 885.6,551.6 885.8,551.5 886,551.5 886.2,551.5 886.4,551.5 886.6,551.4 886.8,551.4 887,551.4 887.2,551.3 887.4,551.3 887.6,551.2 887.8,551.1 888,551 888.2,550.9 888.4,550.7 888.6,550.5 888.8,550.1 889,549.5 889.2,548.3 889.4,546.4 889.6,543.3 889.8,538.9 890,533.2 890.2,526.9 890.4,521 890.6,517.4 890.8,517.3 891,520.9 891.2,526.6 891.4,532.8 891.6,538.2 891.8,542.2 892,544.4 892.2,544.8 892.4,543.5 892.6,540.9 892.8,537.5 893,534.6 893.2,533.4 893.4,534.8 893.6,538.1 893.8,541.9 894,545.3 894.2,547.7 894.4,549.3 894.6,550.2 894.8,550.6 895,550.9 895.2,551 895.4,551.1 895.6,551.2 895.8,551.3 896,551.3 896.2,551.4 896.4,551.4 896.6,551.4 896.8,551.5 897,551.5 897.2,551.5 897.4,551.5 897.6,551.5 897.8,551.5 898,551.5 898.2,551.5 898.4,551.5 898.6,551.5 898.8,551.5 899,551.5 899.2,551.5 899.4,551.5 899.6,551.5 899.8,551.4 900,551.4 900.2,551.4 900.4,551.3 900.6,551.2 900.8,551.1 901,550.8 901.2,550.4 901.4,549.7 901.6,548.5 901.8,546.6 902,544.1 902.2,541.1 902.4,538.1 902.6,535.6 902.8,534.7 903,535.6 903.2,538.1 903.4,541.1 903.6,544.2 903.8,546.6 904,548.5 904.2,549.7 904.4,550.4 904.6,550.8 904.8,551.1 905,551.2 905.2,551.3 905.4,551.4 905.6,551.4 905.8,551.4 906,551.5 906.2,551.5 906.4,551.5 906.6,551.5 906.8,551.5 907,551.5 907.2,551.5 907.4,551.5 907.6,551.5 907.8,551.5 908,551.5 908.2,551.5 908.4,551.5 908.6,551.5 908.8,551.5 909,551.4 909.2,551.4 909.4,551.4 909.6,551.3 909.8,551.3 910,551.2 910.2,551.1 910.4,551 910.6,550.9 910.8,550.8 911,550.6 911.2,550.2 911.4,549.7 911.6,548.7 911.8,547 912,544.3 912.2,540.1 912.4,534.4 912.6,527.5 912.8,520.5 913,514.9 913.2,512.7 913.4,514.8 913.6,520.3 913.8,527.2 914,533.9 914.2,539.3 914.4,543 914.6,544.8 914.8,544.8 915,543 915.2,539.9 915.4,536 915.6,532.6 915.8,531.3 916,532.9 916.2,536.6 916.4,540.9 916.6,544.6 916.8,547.4 917,549.1 917.2,550.1 917.4,550.6 917.6,550.9 917.8,551.1 918,551.2 918.2,551.3 918.4,551.4 918.6,551.5 918.8,551.5 919,551.5 919.2,551.6 919.4,551.6 919.6,551.6 919.8,551.7 920,551.7 920.2,551.7 920.4,551.7 920.6,551.7 920.8,551.8 921,551.8 921.2,551.8 921.4,551.8 921.6,551.8 921.8,551.8 922.8,551.9 923.8,551.9 924.8,551.9 925.8,552 926.8,552 927.8,552 928.8,552.1 929.8,552.1 930.8,552.2 931.8,552.2 932,552.2 932.2,552.2 932.4,552.2 932.6,552.2 932.8,552.2 933,552.2 933.2,552.2 933.4,552.3 933.6,552.3 933.8,552.3 934,552.3 934.2,552.3 934.4,552.3 934.6,552.3 934.8,552.2 935,552.2 935.2,552.2 935.4,552.1 935.6,552 935.8,551.8 936,551.6 936.2,551.3 936.4,551 936.6,550.8 936.8,550.6 937,550.5 937.2,550.6 937.4,550.8 937.6,551.1 937.8,551.4 938,551.7 938.2,551.9 938.4,552.1 938.6,552.2 938.8,552.3 939,552.4 939.2,552.4 939.4,552.4 939.6,552.5 939.8,552.5 940,552.5 940.2,552.5 940.4,552.5 940.6,552.5 940.8,552.5 941,552.6 941.2,552.6 941.4,552.6 941.6,552.6 941.8,552.6 942,552.6 942.2,552.6 942.4,552.6 942.6,552.6 942.8,552.6 943,552.6 944,552.7 945,552.7 946,552.8 947,552.8 948,552.8 949,552.9 950,552.9 951,553 952,553 953,553 954,553.1 955,553.1 956,553.2 957,553.2 958,553.2 959,553.3 960,553.3 961,553.3 962,553.4 963,553.4 964,553.5" fill="none" stroke="#f01010" stroke-width="3" stroke-linejoin="round"/>
<g font-size="31">
<text transform="translate(151.7,777.4) scale(1,1.05)">20</text>
<text transform="translate(379.5,777.4) scale(1,1.05)">40</text>
<text transform="translate(607,777.4) scale(1,1.05)">60</text>
<text transform="translate(834.8,777.4) scale(1,1.05)">80</text>
</g>
<text x="437.3" y="812.2" font-size="31" font-style="italic">2</text>
<text transform="translate(453.6,812.2) scale(1.12,1)" font-size="32" font-style="italic">θ</text>
<text x="476" y="812.4" font-size="37">(</text>
<text x="488.3" y="812.2" font-size="31">degree</text>
<text x="570" y="812.4" font-size="37">)</text>
<text transform="translate(25.5,466) rotate(-90)" font-size="31"><tspan font-style="italic" letter-spacing="0.66">Intensity</tspan> <tspan font-size="34" dy="0.6" dx="-1.8">(</tspan><tspan dy="-0.6">a.u.</tspan><tspan font-size="34" dy="0.6">)</tspan></text>
<g font-size="30.5">
<text x="368.4" y="61.8">Exp.</text>
<text x="368.4" y="108.9">Cal.</text>
<text x="368.4" y="155.5">Exp. - Cal.</text>
<text x="368.4" y="202.3">Bragg positions</text>
</g>
<circle cx="318.8" cy="49.8" r="8.8" fill="none" stroke="#000" stroke-width="1.6"/>
<path d="M275 95.5H361" stroke="#f01010" stroke-width="3"/>
<path d="M275 142.3H361" stroke="#0000ee" stroke-width="3"/>
<path d="M318.5 181.3V197.8" stroke="#40ee40" stroke-width="2"/>
</svg>
</body></html>
